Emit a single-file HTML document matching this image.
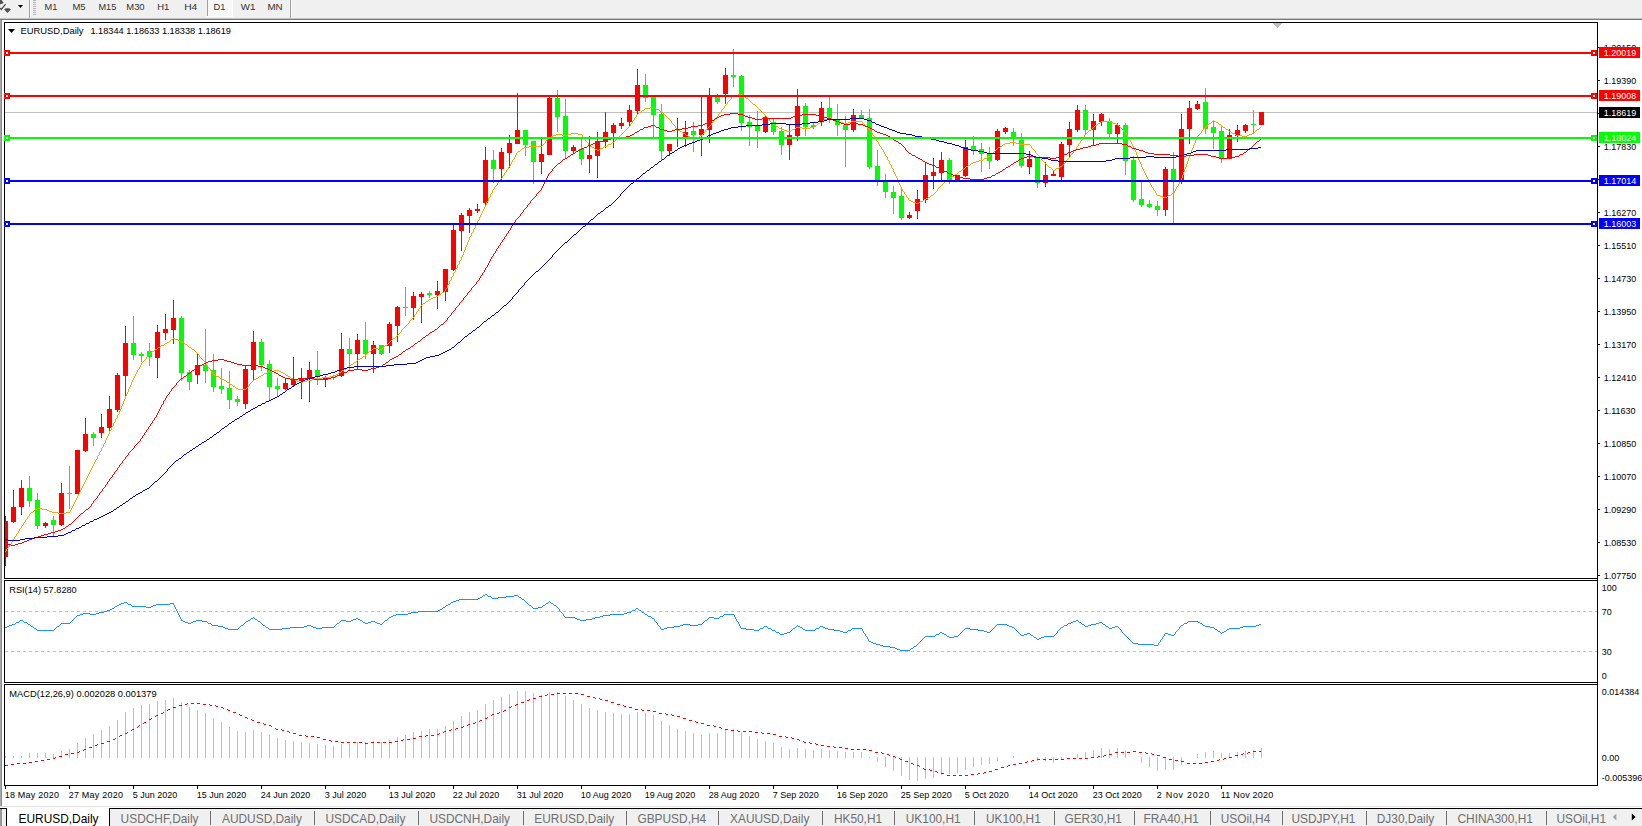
<!DOCTYPE html>
<html><head><meta charset="utf-8"><title>EURUSD,Daily</title>
<style>html,body{margin:0;padding:0;background:#fff;overflow:hidden}body{width:1642px;height:826px;position:relative;font-family:"Liberation Sans",sans-serif}svg{position:absolute;left:0;top:0;display:block}text{font-family:"Liberation Sans",sans-serif;white-space:pre}</style>
</head><body>
<svg width="1642" height="826" viewBox="0 0 1642 826" shape-rendering="crispEdges">
<rect x="0" y="0" width="1642" height="826" fill="#fff"/>
<rect x="0" y="0" width="1642" height="18" fill="#f0f0f0"/>
<rect x="0" y="18" width="1642" height="1" fill="#c4c4c4"/>
<rect x="0" y="19" width="1642" height="1" fill="#787878"/>
<rect x="29" y="0" width="1" height="18" fill="#a0a0a0"/>
<rect x="30" y="0" width="1" height="18" fill="#fbfbfb"/>
<rect x="33" y="0" width="3" height="1" fill="#b4b4b4"/>
<rect x="33" y="2" width="3" height="1" fill="#b4b4b4"/>
<rect x="33" y="4" width="3" height="1" fill="#b4b4b4"/>
<rect x="33" y="6" width="3" height="1" fill="#b4b4b4"/>
<rect x="33" y="8" width="3" height="1" fill="#b4b4b4"/>
<rect x="33" y="10" width="3" height="1" fill="#b4b4b4"/>
<rect x="33" y="12" width="3" height="1" fill="#b4b4b4"/>
<rect x="33" y="14" width="3" height="1" fill="#b4b4b4"/>
<rect x="208" y="0" width="24" height="16" fill="#f8f8f8"/>
<rect x="207" y="0" width="1" height="16" fill="#a0a0a0"/>
<rect x="232" y="0" width="1" height="17" fill="#fcfcfc"/>
<rect x="207" y="16" width="26" height="1" fill="#fcfcfc"/>
<rect x="290" y="0" width="1" height="18" fill="#a0a0a0"/>
<rect x="291" y="0" width="1" height="18" fill="#fbfbfb"/>
<g shape-rendering="geometricPrecision" fill="#505050"><polygon points="0,0 1.6,0 3.8,3.1 0,4.6"/><polygon points="4.1,9.4 5.8,8.3 9.2,8.3 10.9,9.4 7.5,12.9"/><path d="M5.6,4.1 L1.3,9.4 L0,8" stroke="#505050" stroke-width="1.3" fill="none"/></g>
<polygon points="18,5 23,5 20.5,8" fill="#000" shape-rendering="geometricPrecision"/>
<text transform="translate(44.5 9.8) scale(0.9709 1)" font-size="9.68" fill="#303030" text-anchor="start" textLength="13.18" lengthAdjust="spacingAndGlyphs">M1</text>
<text transform="translate(72.4 9.8) scale(0.9709 1)" font-size="9.68" fill="#303030" text-anchor="start" textLength="13.6" lengthAdjust="spacingAndGlyphs">M5</text>
<text transform="translate(98.4 9.8) scale(0.9709 1)" font-size="9.68" fill="#303030" text-anchor="start" textLength="18.44" lengthAdjust="spacingAndGlyphs">M15</text>
<text transform="translate(126.3 9.8) scale(0.9709 1)" font-size="9.68" fill="#303030" text-anchor="start" textLength="18.85" lengthAdjust="spacingAndGlyphs">M30</text>
<text transform="translate(157.2 9.8) scale(0.9709 1)" font-size="9.68" fill="#303030" text-anchor="start" textLength="12.46" lengthAdjust="spacingAndGlyphs">H1</text>
<text transform="translate(184.2 9.8) scale(0.9709 1)" font-size="9.68" fill="#303030" text-anchor="start" textLength="13.49" lengthAdjust="spacingAndGlyphs">H4</text>
<text transform="translate(213.5 9.8) scale(0.9709 1)" font-size="9.68" fill="#303030" text-anchor="start" textLength="12.15" lengthAdjust="spacingAndGlyphs">D1</text>
<text transform="translate(240.7 9.8) scale(0.9709 1)" font-size="9.68" fill="#303030" text-anchor="start" textLength="15.04" lengthAdjust="spacingAndGlyphs">W1</text>
<text transform="translate(267.4 9.8) scale(0.9709 1)" font-size="9.68" fill="#303030" text-anchor="start" textLength="15.66" lengthAdjust="spacingAndGlyphs">MN</text>
<rect x="0" y="20" width="1" height="786" fill="#a8a8a8"/>
<rect x="1" y="20" width="1" height="786" fill="#8c8c8c"/>
<rect x="4" y="22" width="1594" height="1" fill="#000"/>
<rect x="4" y="22" width="1" height="557" fill="#000"/>
<rect x="4" y="578" width="1594" height="1" fill="#000"/>
<rect x="4" y="580" width="1594" height="1" fill="#000"/>
<rect x="4" y="580" width="1" height="103" fill="#000"/>
<rect x="4" y="682" width="1594" height="1" fill="#000"/>
<rect x="4" y="684" width="1594" height="1" fill="#000"/>
<rect x="4" y="684" width="1" height="102" fill="#000"/>
<rect x="4" y="785" width="1594" height="1" fill="#000"/>
<rect x="1597" y="22" width="1" height="764" fill="#000"/>
<clipPath id="cp"><rect x="5" y="23" width="1592" height="555"/></clipPath>
<g clip-path="url(#cp)">
<rect x="5" y="112" width="1592" height="1" fill="#c0c0c0"/>
<rect x="5" y="516" width="1" height="50" fill="#ff0000"/>
<rect x="3" y="521" width="5" height="36" fill="#ff0000"/>
<rect x="13" y="490" width="1" height="33" fill="#ff0000"/>
<rect x="11" y="507" width="5" height="15" fill="#ff0000"/>
<rect x="21" y="480" width="1" height="35" fill="#ff0000"/>
<rect x="19" y="488" width="5" height="19" fill="#ff0000"/>
<rect x="29" y="476" width="1" height="31" fill="#00ff00"/>
<rect x="27" y="488" width="5" height="13" fill="#00ff00"/>
<rect x="37" y="493" width="1" height="36" fill="#00ff00"/>
<rect x="35" y="500" width="5" height="26" fill="#00ff00"/>
<rect x="45" y="522" width="1" height="6" fill="#ff0000"/>
<rect x="43" y="523" width="5" height="3" fill="#ff0000"/>
<rect x="53" y="516" width="1" height="20" fill="#00ff00"/>
<rect x="51" y="520" width="5" height="5" fill="#00ff00"/>
<rect x="61" y="483" width="1" height="43" fill="#ff0000"/>
<rect x="59" y="493" width="5" height="32" fill="#ff0000"/>
<rect x="69" y="466" width="1" height="43" fill="#00ff00"/>
<rect x="67" y="493" width="5" height="1" fill="#00ff00"/>
<rect x="77" y="450" width="1" height="44" fill="#ff0000"/>
<rect x="75" y="450" width="5" height="44" fill="#ff0000"/>
<rect x="85" y="418" width="1" height="34" fill="#ff0000"/>
<rect x="83" y="434" width="5" height="17" fill="#ff0000"/>
<rect x="93" y="432" width="1" height="14" fill="#00ff00"/>
<rect x="91" y="434" width="5" height="4" fill="#00ff00"/>
<rect x="101" y="414" width="1" height="24" fill="#ff0000"/>
<rect x="99" y="427" width="5" height="6" fill="#ff0000"/>
<rect x="109" y="396" width="1" height="36" fill="#ff0000"/>
<rect x="107" y="409" width="5" height="19" fill="#ff0000"/>
<rect x="117" y="373" width="1" height="39" fill="#ff0000"/>
<rect x="115" y="375" width="5" height="35" fill="#ff0000"/>
<rect x="125" y="326" width="1" height="71" fill="#ff0000"/>
<rect x="123" y="343" width="5" height="33" fill="#ff0000"/>
<rect x="133" y="316" width="1" height="44" fill="#00ff00"/>
<rect x="131" y="343" width="5" height="12" fill="#00ff00"/>
<rect x="141" y="352" width="1" height="10" fill="#00ff00"/>
<rect x="139" y="354" width="5" height="2" fill="#00ff00"/>
<rect x="149" y="343" width="1" height="23" fill="#00ff00"/>
<rect x="147" y="351" width="5" height="6" fill="#00ff00"/>
<rect x="157" y="325" width="1" height="53" fill="#ff0000"/>
<rect x="155" y="332" width="5" height="26" fill="#ff0000"/>
<rect x="165" y="314" width="1" height="26" fill="#ff0000"/>
<rect x="163" y="329" width="5" height="4" fill="#ff0000"/>
<rect x="173" y="300" width="1" height="44" fill="#ff0000"/>
<rect x="171" y="318" width="5" height="12" fill="#ff0000"/>
<rect x="181" y="316" width="1" height="65" fill="#00ff00"/>
<rect x="179" y="318" width="5" height="55" fill="#00ff00"/>
<rect x="189" y="370" width="1" height="20" fill="#00ff00"/>
<rect x="187" y="372" width="5" height="10" fill="#00ff00"/>
<rect x="197" y="354" width="1" height="30" fill="#ff0000"/>
<rect x="195" y="365" width="5" height="10" fill="#ff0000"/>
<rect x="205" y="329" width="1" height="54" fill="#00ff00"/>
<rect x="203" y="365" width="5" height="6" fill="#00ff00"/>
<rect x="213" y="354" width="1" height="38" fill="#00ff00"/>
<rect x="211" y="370" width="5" height="17" fill="#00ff00"/>
<rect x="221" y="368" width="1" height="26" fill="#00ff00"/>
<rect x="219" y="386" width="5" height="3" fill="#00ff00"/>
<rect x="229" y="371" width="1" height="38" fill="#00ff00"/>
<rect x="227" y="388" width="5" height="12" fill="#00ff00"/>
<rect x="237" y="396" width="1" height="10" fill="#00ff00"/>
<rect x="235" y="399" width="5" height="3" fill="#00ff00"/>
<rect x="245" y="365" width="1" height="44" fill="#ff0000"/>
<rect x="243" y="369" width="5" height="35" fill="#ff0000"/>
<rect x="253" y="331" width="1" height="49" fill="#ff0000"/>
<rect x="251" y="342" width="5" height="28" fill="#ff0000"/>
<rect x="261" y="339" width="1" height="32" fill="#00ff00"/>
<rect x="259" y="342" width="5" height="23" fill="#00ff00"/>
<rect x="269" y="360" width="1" height="40" fill="#00ff00"/>
<rect x="267" y="364" width="5" height="23" fill="#00ff00"/>
<rect x="277" y="378" width="1" height="19" fill="#00ff00"/>
<rect x="275" y="386" width="5" height="3" fill="#00ff00"/>
<rect x="285" y="378" width="1" height="12" fill="#ff0000"/>
<rect x="283" y="383" width="5" height="6" fill="#ff0000"/>
<rect x="293" y="357" width="1" height="29" fill="#ff0000"/>
<rect x="291" y="379" width="5" height="6" fill="#ff0000"/>
<rect x="301" y="368" width="1" height="31" fill="#ff0000"/>
<rect x="299" y="378" width="5" height="3" fill="#ff0000"/>
<rect x="309" y="362" width="1" height="40" fill="#ff0000"/>
<rect x="307" y="370" width="5" height="9" fill="#ff0000"/>
<rect x="317" y="351" width="1" height="34" fill="#00ff00"/>
<rect x="315" y="370" width="5" height="7" fill="#00ff00"/>
<rect x="325" y="376" width="1" height="11" fill="#ff0000"/>
<rect x="323" y="377" width="5" height="3" fill="#ff0000"/>
<rect x="333" y="375" width="1" height="5" fill="#00ff00"/>
<rect x="331" y="377" width="5" height="1" fill="#00ff00"/>
<rect x="341" y="333" width="1" height="44" fill="#ff0000"/>
<rect x="339" y="349" width="5" height="27" fill="#ff0000"/>
<rect x="349" y="338" width="1" height="32" fill="#00ff00"/>
<rect x="347" y="349" width="5" height="5" fill="#00ff00"/>
<rect x="357" y="334" width="1" height="35" fill="#ff0000"/>
<rect x="355" y="340" width="5" height="14" fill="#ff0000"/>
<rect x="365" y="322" width="1" height="37" fill="#00ff00"/>
<rect x="363" y="340" width="5" height="14" fill="#00ff00"/>
<rect x="373" y="341" width="1" height="32" fill="#ff0000"/>
<rect x="371" y="345" width="5" height="9" fill="#ff0000"/>
<rect x="381" y="345" width="1" height="10" fill="#00ff00"/>
<rect x="379" y="345" width="5" height="9" fill="#00ff00"/>
<rect x="389" y="322" width="1" height="31" fill="#ff0000"/>
<rect x="387" y="324" width="5" height="22" fill="#ff0000"/>
<rect x="397" y="306" width="1" height="36" fill="#ff0000"/>
<rect x="395" y="307" width="5" height="19" fill="#ff0000"/>
<rect x="405" y="287" width="1" height="29" fill="#00ff00"/>
<rect x="403" y="307" width="5" height="1" fill="#00ff00"/>
<rect x="413" y="292" width="1" height="28" fill="#ff0000"/>
<rect x="411" y="296" width="5" height="12" fill="#ff0000"/>
<rect x="421" y="292" width="1" height="31" fill="#ff0000"/>
<rect x="419" y="294" width="5" height="3" fill="#ff0000"/>
<rect x="429" y="291" width="1" height="7" fill="#00ff00"/>
<rect x="427" y="293" width="5" height="2" fill="#00ff00"/>
<rect x="437" y="281" width="1" height="28" fill="#ff0000"/>
<rect x="435" y="291" width="5" height="4" fill="#ff0000"/>
<rect x="445" y="269" width="1" height="32" fill="#ff0000"/>
<rect x="443" y="269" width="5" height="23" fill="#ff0000"/>
<rect x="453" y="225" width="1" height="46" fill="#ff0000"/>
<rect x="451" y="230" width="5" height="40" fill="#ff0000"/>
<rect x="461" y="213" width="1" height="38" fill="#ff0000"/>
<rect x="459" y="215" width="5" height="16" fill="#ff0000"/>
<rect x="469" y="208" width="1" height="25" fill="#ff0000"/>
<rect x="467" y="210" width="5" height="6" fill="#ff0000"/>
<rect x="477" y="204" width="1" height="9" fill="#ff0000"/>
<rect x="475" y="209" width="5" height="2" fill="#ff0000"/>
<rect x="485" y="147" width="1" height="58" fill="#ff0000"/>
<rect x="483" y="160" width="5" height="43" fill="#ff0000"/>
<rect x="493" y="150" width="1" height="33" fill="#00ff00"/>
<rect x="491" y="160" width="5" height="9" fill="#00ff00"/>
<rect x="501" y="148" width="1" height="32" fill="#ff0000"/>
<rect x="499" y="152" width="5" height="17" fill="#ff0000"/>
<rect x="509" y="135" width="1" height="33" fill="#ff0000"/>
<rect x="507" y="143" width="5" height="10" fill="#ff0000"/>
<rect x="517" y="93" width="1" height="51" fill="#ff0000"/>
<rect x="515" y="130" width="5" height="14" fill="#ff0000"/>
<rect x="525" y="130" width="1" height="26" fill="#00ff00"/>
<rect x="523" y="130" width="5" height="15" fill="#00ff00"/>
<rect x="533" y="141" width="1" height="43" fill="#00ff00"/>
<rect x="531" y="141" width="5" height="21" fill="#00ff00"/>
<rect x="541" y="139" width="1" height="35" fill="#ff0000"/>
<rect x="539" y="154" width="5" height="8" fill="#ff0000"/>
<rect x="549" y="96" width="1" height="59" fill="#ff0000"/>
<rect x="547" y="98" width="5" height="57" fill="#ff0000"/>
<rect x="557" y="90" width="1" height="42" fill="#00ff00"/>
<rect x="555" y="98" width="5" height="19" fill="#00ff00"/>
<rect x="565" y="99" width="1" height="59" fill="#00ff00"/>
<rect x="563" y="116" width="5" height="35" fill="#00ff00"/>
<rect x="573" y="145" width="1" height="9" fill="#ff0000"/>
<rect x="571" y="147" width="5" height="4" fill="#ff0000"/>
<rect x="581" y="139" width="1" height="26" fill="#00ff00"/>
<rect x="579" y="149" width="5" height="10" fill="#00ff00"/>
<rect x="589" y="136" width="1" height="37" fill="#ff0000"/>
<rect x="587" y="155" width="5" height="4" fill="#ff0000"/>
<rect x="597" y="132" width="1" height="46" fill="#ff0000"/>
<rect x="595" y="141" width="5" height="15" fill="#ff0000"/>
<rect x="605" y="112" width="1" height="36" fill="#ff0000"/>
<rect x="603" y="132" width="5" height="10" fill="#ff0000"/>
<rect x="613" y="123" width="1" height="25" fill="#ff0000"/>
<rect x="611" y="125" width="5" height="8" fill="#ff0000"/>
<rect x="621" y="118" width="1" height="11" fill="#ff0000"/>
<rect x="619" y="123" width="5" height="3" fill="#ff0000"/>
<rect x="629" y="105" width="1" height="21" fill="#ff0000"/>
<rect x="627" y="110" width="5" height="12" fill="#ff0000"/>
<rect x="637" y="69" width="1" height="46" fill="#ff0000"/>
<rect x="635" y="85" width="5" height="26" fill="#ff0000"/>
<rect x="645" y="74" width="1" height="28" fill="#00ff00"/>
<rect x="643" y="85" width="5" height="13" fill="#00ff00"/>
<rect x="653" y="97" width="1" height="41" fill="#00ff00"/>
<rect x="651" y="97" width="5" height="18" fill="#00ff00"/>
<rect x="661" y="104" width="1" height="56" fill="#00ff00"/>
<rect x="659" y="114" width="5" height="37" fill="#00ff00"/>
<rect x="669" y="144" width="1" height="12" fill="#ff0000"/>
<rect x="667" y="144" width="5" height="7" fill="#ff0000"/>
<rect x="677" y="118" width="1" height="29" fill="#ff0000"/>
<rect x="675" y="137" width="5" height="2" fill="#ff0000"/>
<rect x="685" y="121" width="1" height="26" fill="#ff0000"/>
<rect x="683" y="132" width="5" height="5" fill="#ff0000"/>
<rect x="693" y="122" width="1" height="30" fill="#00ff00"/>
<rect x="691" y="131" width="5" height="4" fill="#00ff00"/>
<rect x="701" y="97" width="1" height="59" fill="#ff0000"/>
<rect x="699" y="129" width="5" height="6" fill="#ff0000"/>
<rect x="709" y="88" width="1" height="55" fill="#ff0000"/>
<rect x="707" y="97" width="5" height="33" fill="#ff0000"/>
<rect x="717" y="94" width="1" height="10" fill="#00ff00"/>
<rect x="715" y="97" width="5" height="5" fill="#00ff00"/>
<rect x="725" y="68" width="1" height="36" fill="#ff0000"/>
<rect x="723" y="75" width="5" height="19" fill="#ff0000"/>
<rect x="733" y="49" width="1" height="38" fill="#00ff00"/>
<rect x="731" y="75" width="5" height="2" fill="#00ff00"/>
<rect x="741" y="75" width="1" height="56" fill="#00ff00"/>
<rect x="739" y="76" width="5" height="47" fill="#00ff00"/>
<rect x="749" y="115" width="1" height="31" fill="#00ff00"/>
<rect x="747" y="122" width="5" height="5" fill="#00ff00"/>
<rect x="757" y="111" width="1" height="37" fill="#00ff00"/>
<rect x="755" y="125" width="5" height="6" fill="#00ff00"/>
<rect x="765" y="116" width="1" height="17" fill="#ff0000"/>
<rect x="763" y="117" width="5" height="15" fill="#ff0000"/>
<rect x="773" y="119" width="1" height="16" fill="#00ff00"/>
<rect x="771" y="122" width="5" height="10" fill="#00ff00"/>
<rect x="781" y="127" width="1" height="28" fill="#00ff00"/>
<rect x="779" y="131" width="5" height="14" fill="#00ff00"/>
<rect x="789" y="125" width="1" height="35" fill="#ff0000"/>
<rect x="787" y="135" width="5" height="10" fill="#ff0000"/>
<rect x="797" y="89" width="1" height="52" fill="#ff0000"/>
<rect x="795" y="106" width="5" height="30" fill="#ff0000"/>
<rect x="805" y="103" width="1" height="33" fill="#00ff00"/>
<rect x="803" y="106" width="5" height="21" fill="#00ff00"/>
<rect x="813" y="122" width="1" height="7" fill="#00ff00"/>
<rect x="811" y="125" width="5" height="2" fill="#00ff00"/>
<rect x="821" y="102" width="1" height="24" fill="#ff0000"/>
<rect x="819" y="108" width="5" height="13" fill="#ff0000"/>
<rect x="829" y="97" width="1" height="26" fill="#00ff00"/>
<rect x="827" y="108" width="5" height="10" fill="#00ff00"/>
<rect x="837" y="104" width="1" height="32" fill="#00ff00"/>
<rect x="835" y="119" width="5" height="6" fill="#00ff00"/>
<rect x="845" y="116" width="1" height="51" fill="#00ff00"/>
<rect x="843" y="125" width="5" height="5" fill="#00ff00"/>
<rect x="853" y="109" width="1" height="23" fill="#ff0000"/>
<rect x="851" y="115" width="5" height="15" fill="#ff0000"/>
<rect x="861" y="110" width="1" height="8" fill="#00ff00"/>
<rect x="859" y="115" width="5" height="3" fill="#00ff00"/>
<rect x="869" y="109" width="1" height="60" fill="#00ff00"/>
<rect x="867" y="118" width="5" height="49" fill="#00ff00"/>
<rect x="877" y="150" width="1" height="36" fill="#00ff00"/>
<rect x="875" y="166" width="5" height="16" fill="#00ff00"/>
<rect x="885" y="174" width="1" height="24" fill="#00ff00"/>
<rect x="883" y="181" width="5" height="11" fill="#00ff00"/>
<rect x="893" y="186" width="1" height="28" fill="#00ff00"/>
<rect x="891" y="192" width="5" height="6" fill="#00ff00"/>
<rect x="901" y="187" width="1" height="33" fill="#00ff00"/>
<rect x="899" y="196" width="5" height="22" fill="#00ff00"/>
<rect x="909" y="212" width="1" height="7" fill="#ff0000"/>
<rect x="907" y="215" width="5" height="3" fill="#ff0000"/>
<rect x="917" y="190" width="1" height="29" fill="#ff0000"/>
<rect x="915" y="199" width="5" height="12" fill="#ff0000"/>
<rect x="925" y="163" width="1" height="40" fill="#ff0000"/>
<rect x="923" y="175" width="5" height="25" fill="#ff0000"/>
<rect x="933" y="158" width="1" height="31" fill="#ff0000"/>
<rect x="931" y="172" width="5" height="4" fill="#ff0000"/>
<rect x="941" y="152" width="1" height="29" fill="#ff0000"/>
<rect x="939" y="160" width="5" height="13" fill="#ff0000"/>
<rect x="949" y="158" width="1" height="26" fill="#00ff00"/>
<rect x="947" y="160" width="5" height="21" fill="#00ff00"/>
<rect x="957" y="175" width="1" height="7" fill="#ff0000"/>
<rect x="955" y="175" width="5" height="7" fill="#ff0000"/>
<rect x="965" y="140" width="1" height="37" fill="#ff0000"/>
<rect x="963" y="147" width="5" height="29" fill="#ff0000"/>
<rect x="973" y="136" width="1" height="19" fill="#00ff00"/>
<rect x="971" y="146" width="5" height="5" fill="#00ff00"/>
<rect x="981" y="143" width="1" height="29" fill="#00ff00"/>
<rect x="979" y="149" width="5" height="5" fill="#00ff00"/>
<rect x="989" y="147" width="1" height="22" fill="#00ff00"/>
<rect x="987" y="153" width="5" height="8" fill="#00ff00"/>
<rect x="997" y="129" width="1" height="32" fill="#ff0000"/>
<rect x="995" y="131" width="5" height="29" fill="#ff0000"/>
<rect x="1005" y="127" width="1" height="7" fill="#ff0000"/>
<rect x="1003" y="128" width="5" height="4" fill="#ff0000"/>
<rect x="1013" y="128" width="1" height="18" fill="#00ff00"/>
<rect x="1011" y="132" width="5" height="7" fill="#00ff00"/>
<rect x="1021" y="133" width="1" height="35" fill="#00ff00"/>
<rect x="1019" y="140" width="5" height="26" fill="#00ff00"/>
<rect x="1029" y="151" width="1" height="23" fill="#ff0000"/>
<rect x="1027" y="159" width="5" height="8" fill="#ff0000"/>
<rect x="1037" y="157" width="1" height="31" fill="#00ff00"/>
<rect x="1035" y="158" width="5" height="25" fill="#00ff00"/>
<rect x="1045" y="162" width="1" height="25" fill="#ff0000"/>
<rect x="1043" y="175" width="5" height="8" fill="#ff0000"/>
<rect x="1053" y="171" width="1" height="5" fill="#ff0000"/>
<rect x="1051" y="174" width="5" height="2" fill="#ff0000"/>
<rect x="1061" y="142" width="1" height="39" fill="#ff0000"/>
<rect x="1059" y="144" width="5" height="33" fill="#ff0000"/>
<rect x="1069" y="122" width="1" height="35" fill="#ff0000"/>
<rect x="1067" y="129" width="5" height="16" fill="#ff0000"/>
<rect x="1077" y="105" width="1" height="27" fill="#ff0000"/>
<rect x="1075" y="110" width="5" height="20" fill="#ff0000"/>
<rect x="1085" y="105" width="1" height="30" fill="#00ff00"/>
<rect x="1083" y="110" width="5" height="20" fill="#00ff00"/>
<rect x="1093" y="114" width="1" height="32" fill="#ff0000"/>
<rect x="1091" y="121" width="5" height="9" fill="#ff0000"/>
<rect x="1101" y="113" width="1" height="13" fill="#ff0000"/>
<rect x="1099" y="114" width="5" height="8" fill="#ff0000"/>
<rect x="1109" y="118" width="1" height="20" fill="#00ff00"/>
<rect x="1107" y="121" width="5" height="13" fill="#00ff00"/>
<rect x="1117" y="123" width="1" height="20" fill="#ff0000"/>
<rect x="1115" y="125" width="5" height="9" fill="#ff0000"/>
<rect x="1125" y="123" width="1" height="52" fill="#00ff00"/>
<rect x="1123" y="125" width="5" height="36" fill="#00ff00"/>
<rect x="1133" y="156" width="1" height="46" fill="#00ff00"/>
<rect x="1131" y="160" width="5" height="40" fill="#00ff00"/>
<rect x="1141" y="181" width="1" height="26" fill="#00ff00"/>
<rect x="1139" y="199" width="5" height="6" fill="#00ff00"/>
<rect x="1149" y="200" width="1" height="8" fill="#00ff00"/>
<rect x="1147" y="204" width="5" height="3" fill="#00ff00"/>
<rect x="1157" y="201" width="1" height="15" fill="#00ff00"/>
<rect x="1155" y="206" width="5" height="4" fill="#00ff00"/>
<rect x="1165" y="167" width="1" height="49" fill="#ff0000"/>
<rect x="1163" y="169" width="5" height="41" fill="#ff0000"/>
<rect x="1173" y="152" width="1" height="71" fill="#00ff00"/>
<rect x="1171" y="169" width="5" height="11" fill="#00ff00"/>
<rect x="1181" y="114" width="1" height="70" fill="#ff0000"/>
<rect x="1179" y="129" width="5" height="51" fill="#ff0000"/>
<rect x="1189" y="101" width="1" height="43" fill="#ff0000"/>
<rect x="1187" y="108" width="5" height="21" fill="#ff0000"/>
<rect x="1197" y="101" width="1" height="9" fill="#ff0000"/>
<rect x="1195" y="104" width="5" height="5" fill="#ff0000"/>
<rect x="1205" y="88" width="1" height="46" fill="#00ff00"/>
<rect x="1203" y="102" width="5" height="27" fill="#00ff00"/>
<rect x="1213" y="121" width="1" height="28" fill="#00ff00"/>
<rect x="1211" y="127" width="5" height="6" fill="#00ff00"/>
<rect x="1221" y="126" width="1" height="37" fill="#00ff00"/>
<rect x="1219" y="131" width="5" height="28" fill="#00ff00"/>
<rect x="1229" y="129" width="1" height="30" fill="#ff0000"/>
<rect x="1227" y="135" width="5" height="24" fill="#ff0000"/>
<rect x="1237" y="125" width="1" height="17" fill="#ff0000"/>
<rect x="1235" y="130" width="5" height="6" fill="#ff0000"/>
<rect x="1245" y="124" width="1" height="9" fill="#ff0000"/>
<rect x="1243" y="125" width="5" height="6" fill="#ff0000"/>
<rect x="1253" y="110" width="1" height="24" fill="#00ff00"/>
<rect x="1251" y="124" width="5" height="1" fill="#00ff00"/>
<rect x="1261" y="112" width="1" height="13" fill="#ff0000"/>
<rect x="1259" y="112" width="5" height="13" fill="#ff0000"/>
<path d="M5 551v1M6 549v2M7 548v1M8 547v1M9 545v2M10 544v1M11 542v2M12 541v1M13 539v2M14 537v2M15 536v1M16 534v2M17 533v1M18 531v2M19 529v2M20 528v1M21 526v2M22 525v1M23 523v2M24 522v1M25 520v2M26 519v1M27 517v2M28 516v1M29 514v2M30 513v1M31 512v1M32 512v1M33 511v1M34 510v1M35 509v1M36 509v1M37 508v1M38 508v1M39 508v1M40 508v1M41 508v1M42 509v1M43 509v1M44 509v1M45 509v1M46 509v1M47 510v1M48 510v1M49 511v1M50 511v1M51 511v1M52 512v1M53 512v1M54 512v1M55 512v1M56 512v1M57 512v1M58 513v1M59 513v1M60 513v1M61 513v1M62 513v1M63 513v1M64 513v1M65 513v1M66 512v1M67 512v1M68 512v1M69 512v1M70 510v2M71 508v2M72 506v2M73 504v2M74 502v2M75 500v2M76 498v2M77 496v2M78 494v2M79 492v2M80 490v2M81 488v2M82 486v2M83 484v2M84 482v2M85 480v2M86 478v2M87 476v2M88 474v2M89 472v2M90 470v2M91 468v2M92 466v2M93 464v2M94 462v2M95 460v2M96 459v1M97 456v3M98 455v1M99 452v3M100 451v1M101 448v3M102 447v1M103 444v3M104 443v1M105 440v3M106 438v2M107 436v2M108 434v2M109 431v3M110 430v1M111 427v3M112 426v1M113 423v3M114 422v1M115 419v3M116 418v1M117 415v3M118 414v1M119 411v3M120 409v2M121 406v3M122 404v2M123 401v3M124 399v2M125 396v3M126 394v2M127 392v2M128 389v3M129 387v2M130 385v2M131 382v3M132 380v2M133 378v2M134 376v2M135 374v2M136 372v2M137 370v2M138 369v1M139 367v2M140 365v2M141 363v2M142 362v1M143 361v1M144 360v1M145 359v1M146 357v2M147 356v1M148 355v1M149 354v1M150 353v1M151 352v1M152 351v1M153 351v1M154 350v1M155 349v1M156 349v1M157 348v1M158 347v1M159 347v1M160 346v1M161 345v1M162 345v1M163 345v1M164 344v1M165 343v1M166 343v1M167 342v1M168 342v1M169 341v1M170 340v1M171 339v1M172 339v1M173 338v1M174 338v1M175 339v1M176 339v1M177 339v1M178 340v1M179 340v1M180 341v1M181 341v1M182 342v1M183 342v1M184 343v1M185 344v1M186 344v1M187 345v1M188 346v1M189 347v1M190 347v1M191 348v1M192 349v1M193 349v1M194 350v1M195 351v1M196 352v1M197 353v1M198 354v1M199 355v2M200 357v1M201 358v1M202 359v1M203 360v1M204 361v1M205 362v2M206 364v1M207 365v2M208 367v1M209 368v1M210 369v2M211 371v1M212 372v2M213 374v1M214 374v1M215 375v1M216 376v1M217 376v1M218 376v1M219 377v1M220 378v1M221 378v1M222 379v1M223 379v1M224 380v1M225 380v1M226 381v1M227 382v1M228 382v1M229 383v1M230 384v1M231 384v1M232 385v1M233 386v1M234 386v1M235 387v1M236 388v1M237 388v1M238 389v1M239 389v1M240 389v1M241 389v1M242 389v1M243 389v1M244 389v1M245 389v1M246 388v1M247 387v1M248 386v1M249 384v2M250 383v1M251 382v1M252 381v1M253 380v1M254 379v1M255 379v1M256 378v1M257 378v1M258 377v1M259 376v1M260 376v1M261 375v1M262 375v1M263 374v1M264 373v1M265 373v1M266 373v1M267 372v1M268 371v1M269 371v1M270 371v1M271 371v1M272 371v1M273 371v1M274 370v1M275 370v1M276 370v1M277 370v1M278 370v1M279 371v1M280 371v1M281 372v1M282 372v1M283 373v1M284 373v1M285 374v1M286 375v1M287 375v1M288 376v1M289 376v1M290 377v1M291 378v1M292 378v1M293 379v1M294 379v1M295 380v1M296 380v1M297 381v1M298 381v1M299 382v1M300 382v1M301 382v1M302 382v1M303 381v1M304 381v1M305 381v1M306 381v1M307 380v1M308 380v1M309 380v1M310 380v1M311 380v1M312 379v1M313 379v1M314 379v1M315 378v1M316 378v1M317 378v1M318 378v1M319 378v1M320 378v1M321 378v1M322 377v1M323 377v1M324 377v1M325 377v1M326 377v1M327 377v1M328 377v1M329 377v1M330 376v1M331 376v1M332 376v1M333 376v1M334 375v1M335 375v1M336 374v1M337 374v1M338 373v1M339 372v1M340 372v1M341 371v1M342 370v1M343 370v1M344 369v1M345 369v1M346 368v1M347 367v1M348 367v1M349 366v1M350 365v1M351 364v1M352 364v1M353 363v1M354 362v1M355 362v1M356 361v1M357 360v1M358 359v1M359 359v1M360 358v1M361 358v1M362 357v1M363 356v1M364 356v1M365 355v1M366 354v1M367 353v1M368 352v1M369 351v1M370 351v1M371 350v1M372 349v1M373 348v1M374 348v1M375 348v1M376 348v1M377 348v1M378 349v1M379 349v1M380 349v1M381 349v1M382 348v1M383 347v1M384 346v1M385 345v1M386 345v1M387 344v1M388 343v1M389 342v1M390 341v1M391 340v1M392 339v1M393 338v1M394 338v1M395 337v1M396 336v1M397 335v1M398 334v1M399 333v1M400 332v1M401 330v2M402 329v1M403 328v1M404 327v1M405 326v1M406 325v1M407 324v1M408 323v1M409 321v2M410 320v1M411 319v1M412 318v1M413 317v1M414 315v2M415 314v1M416 312v2M417 311v1M418 309v2M419 308v1M420 306v2M421 305v1M422 304v1M423 303v1M424 303v1M425 302v1M426 301v1M427 301v1M428 300v1M429 299v1M430 299v1M431 298v1M432 298v1M433 297v1M434 297v1M435 297v1M436 296v1M437 296v1M438 295v1M439 294v1M440 294v1M441 293v1M442 292v1M443 292v1M444 291v1M445 289v2M446 288v1M447 285v3M448 284v1M449 281v3M450 280v1M451 277v3M452 276v1M453 273v3M454 272v1M455 269v3M456 268v1M457 265v3M458 264v1M459 261v3M460 260v1M461 257v3M462 255v2M463 252v3M464 250v2M465 247v3M466 245v2M467 242v3M468 240v2M469 237v3M470 236v1M471 233v3M472 232v1M473 229v3M474 228v1M475 225v3M476 224v1M477 221v3M478 220v1M479 217v3M480 215v2M481 213v2M482 211v2M483 209v2M484 207v2M485 205v2M486 202v3M487 201v1M488 198v3M489 197v1M490 194v3M491 193v1M492 190v3M493 189v1M494 187v2M495 186v1M496 185v1M497 183v2M498 182v1M499 181v1M500 179v2M501 178v1M502 176v2M503 175v1M504 173v2M505 172v1M506 170v2M507 169v1M508 167v2M509 166v1M510 164v2M511 162v2M512 160v2M513 159v1M514 157v2M515 155v2M516 153v2M517 152v1M518 151v1M519 151v1M520 150v1M521 149v1M522 148v1M523 148v1M524 147v1M525 147v1M526 147v1M527 147v1M528 147v1M529 146v1M530 146v1M531 146v1M532 146v1M533 146v1M534 146v1M535 146v1M536 146v1M537 146v1M538 146v1M539 146v1M540 146v1M541 146v1M542 145v1M543 144v1M544 143v1M545 141v2M546 140v1M547 139v1M548 138v1M549 137v1M550 137v1M551 136v1M552 136v1M553 135v1M554 135v1M555 135v1M556 134v1M557 134v1M558 134v1M559 134v1M560 134v1M561 134v1M562 135v1M563 135v1M564 135v1M565 135v1M566 135v1M567 135v1M568 134v1M569 134v1M570 134v1M571 133v1M572 133v1M573 133v1M574 133v1M575 133v1M576 133v1M577 133v1M578 134v1M579 134v1M580 134v1M581 134v1M582 135v2M583 137v1M584 138v1M585 139v2M586 141v1M587 142v1M588 143v2M589 145v1M590 146v1M591 146v1M592 147v1M593 147v1M594 148v1M595 149v1M596 149v1M597 150v1M598 150v1M599 149v1M600 148v1M601 148v1M602 148v1M603 147v1M604 146v1M605 146v1M606 146v1M607 145v1M608 144v1M609 144v1M610 144v1M611 143v1M612 142v1M613 142v1M614 141v1M615 140v1M616 139v1M617 138v1M618 137v1M619 136v1M620 135v1M621 134v1M622 133v1M623 132v1M624 131v1M625 130v1M626 129v1M627 128v1M628 127v1M629 126v1M630 124v2M631 123v1M632 121v2M633 120v1M634 118v2M635 117v1M636 115v2M637 114v1M638 113v1M639 112v1M640 112v1M641 111v1M642 110v1M643 110v1M644 109v1M645 108v1M646 108v1M647 108v1M648 108v1M649 108v1M650 107v1M651 107v1M652 107v1M653 107v1M654 107v1M655 108v1M656 109v1M657 109v1M658 109v1M659 110v1M660 111v1M661 111v1M662 112v1M663 113v1M664 114v1M665 115v1M666 116v1M667 117v1M668 118v1M669 119v1M670 120v1M671 121v2M672 123v1M673 124v1M674 125v1M675 126v2M676 128v1M677 129v1M678 130v1M679 130v1M680 131v1M681 131v1M682 132v1M683 133v1M684 133v1M685 134v1M686 135v1M687 135v1M688 136v1M689 136v1M690 137v1M691 138v1M692 138v1M693 139v1M694 139v1M695 138v1M696 137v1M697 137v1M698 137v1M699 136v1M700 135v1M701 135v1M702 134v1M703 133v1M704 132v1M705 130v2M706 129v1M707 128v1M708 127v1M709 126v1M710 125v1M711 123v2M712 122v1M713 121v1M714 120v1M715 118v2M716 117v1M717 116v1M718 114v2M719 113v1M720 112v1M721 110v2M722 109v1M723 108v1M724 106v2M725 105v1M726 104v1M727 102v2M728 101v1M729 100v1M730 99v1M731 97v2M732 96v1M733 95v1M734 95v1M735 95v1M736 95v1M737 95v1M738 94v1M739 94v1M740 94v1M741 94v1M742 95v1M743 96v1M744 96v1M745 97v1M746 98v1M747 98v1M748 99v1M749 100v1M750 101v1M751 102v1M752 103v1M753 104v1M754 104v1M755 105v1M756 106v1M757 107v1M758 108v1M759 109v1M760 110v1M761 111v1M762 112v1M763 113v1M764 114v1M765 115v1M766 116v1M767 117v1M768 118v1M769 119v2M770 121v1M771 122v1M772 123v1M773 124v1M774 125v1M775 125v1M776 126v1M777 126v1M778 127v1M779 128v1M780 128v1M781 129v1M782 129v1M783 129v1M784 130v1M785 130v1M786 130v1M787 131v1M788 131v1M789 131v1M790 131v1M791 130v1M792 129v1M793 129v1M794 129v1M795 128v1M796 127v1M797 127v1M798 127v1M799 127v1M800 127v1M801 127v1M802 128v1M803 128v1M804 128v1M805 128v1M806 128v1M807 128v1M808 128v1M809 128v1M810 127v1M811 127v1M812 127v1M813 127v1M814 126v1M815 125v1M816 125v1M817 124v1M818 123v1M819 123v1M820 122v1M821 121v1M822 121v1M823 120v1M824 119v1M825 119v1M826 119v1M827 118v1M828 117v1M829 117v1M830 117v1M831 118v1M832 119v1M833 119v1M834 119v1M835 120v1M836 121v1M837 121v1M838 121v1M839 121v1M840 122v1M841 122v1M842 122v1M843 123v1M844 123v1M845 123v1M846 123v1M847 123v1M848 122v1M849 122v1M850 122v1M851 121v1M852 121v1M853 121v1M854 121v1M855 121v1M856 121v1M857 121v1M858 121v1M859 121v1M860 121v1M861 121v1M862 122v1M863 123v1M864 124v1M865 125v1M866 126v1M867 127v1M868 128v1M869 129v1M870 130v2M871 132v1M872 133v2M873 135v1M874 136v2M875 138v1M876 139v2M877 141v1M878 142v2M879 144v2M880 146v1M881 147v2M882 149v1M883 150v2M884 152v2M885 154v2M886 156v1M887 157v3M888 160v1M889 161v3M890 164v1M891 165v3M892 168v1M893 169v3M894 172v2M895 174v2M896 176v2M897 178v3M898 181v2M899 183v2M900 185v2M901 187v2M902 189v2M903 191v1M904 192v2M905 194v1M906 195v2M907 197v1M908 198v2M909 200v1M910 200v1M911 201v1M912 201v1M913 202v1M914 202v1M915 202v1M916 203v1M917 203v1M918 203v1M919 202v1M920 201v1M921 201v1M922 201v1M923 200v1M924 199v1M925 199v1M926 198v1M927 198v1M928 197v1M929 197v1M930 196v1M931 195v1M932 195v1M933 194v1M934 193v1M935 192v1M936 191v1M937 189v2M938 188v1M939 187v1M940 186v1M941 185v1M942 184v1M943 183v1M944 182v1M945 181v1M946 181v1M947 180v1M948 179v1M949 178v1M950 177v1M951 177v1M952 176v1M953 176v1M954 175v1M955 174v1M956 174v1M957 173v1M958 172v1M959 171v1M960 171v1M961 170v1M962 169v1M963 169v1M964 168v1M965 167v1M966 166v1M967 166v1M968 165v1M969 165v1M970 164v1M971 163v1M972 163v1M973 162v1M974 162v1M975 162v1M976 161v1M977 161v1M978 161v1M979 160v1M980 160v1M981 160v1M982 160v1M983 159v1M984 158v1M985 158v1M986 158v1M987 157v1M988 156v1M989 156v1M990 155v1M991 154v1M992 153v1M993 152v1M994 151v1M995 150v1M996 149v1M997 148v1M998 147v1M999 147v1M1000 146v1M1001 146v1M1002 145v1M1003 144v1M1004 144v1M1005 143v1M1006 143v1M1007 143v1M1008 143v1M1009 143v1M1010 142v1M1011 142v1M1012 142v1M1013 142v1M1014 142v1M1015 142v1M1016 143v1M1017 143v1M1018 143v1M1019 144v1M1020 144v1M1021 144v1M1022 144v1M1023 144v1M1024 144v1M1025 144v1M1026 144v1M1027 144v1M1028 144v1M1029 144v1M1030 145v1M1031 146v2M1032 148v1M1033 149v1M1034 150v1M1035 151v2M1036 153v1M1037 154v1M1038 155v1M1039 156v1M1040 157v1M1041 158v2M1042 160v1M1043 161v1M1044 162v1M1045 163v1M1046 164v1M1047 165v1M1048 166v1M1049 167v1M1050 167v1M1051 168v1M1052 169v1M1053 170v1M1054 170v1M1055 169v1M1056 168v1M1057 168v1M1058 168v1M1059 167v1M1060 166v1M1061 166v1M1062 165v1M1063 164v1M1064 163v1M1065 161v2M1066 160v1M1067 159v1M1068 158v1M1069 157v1M1070 155v2M1071 154v1M1072 153v1M1073 151v2M1074 150v1M1075 149v1M1076 147v2M1077 146v1M1078 144v2M1079 143v1M1080 141v2M1081 140v1M1082 138v2M1083 137v1M1084 135v2M1085 134v1M1086 133v1M1087 132v1M1088 131v1M1089 130v1M1090 130v1M1091 129v1M1092 128v1M1093 127v1M1094 126v1M1095 125v1M1096 125v1M1097 124v1M1098 123v1M1099 123v1M1100 122v1M1101 121v1M1102 121v1M1103 121v1M1104 121v1M1105 121v1M1106 121v1M1107 121v1M1108 121v1M1109 121v1M1110 121v1M1111 122v1M1112 122v1M1113 123v1M1114 123v1M1115 123v1M1116 124v1M1117 124v1M1118 125v1M1119 126v1M1120 127v1M1121 128v1M1122 129v1M1123 130v1M1124 131v1M1125 132v1M1126 133v2M1127 135v2M1128 137v2M1129 139v1M1130 140v2M1131 142v2M1132 144v2M1133 146v2M1134 148v2M1135 150v2M1136 152v3M1137 155v2M1138 157v3M1139 160v2M1140 162v2M1141 164v3M1142 167v2M1143 169v2M1144 171v2M1145 173v2M1146 175v2M1147 177v2M1148 179v2M1149 181v2M1150 183v2M1151 185v2M1152 187v1M1153 188v2M1154 190v1M1155 191v2M1156 193v2M1157 195v1M1158 195v1M1159 195v1M1160 196v1M1161 196v1M1162 196v1M1163 197v1M1164 197v1M1165 197v1M1166 197v1M1167 196v1M1168 195v1M1169 195v1M1170 195v1M1171 194v1M1172 193v1M1173 193v1M1174 191v2M1175 189v2M1176 187v2M1177 186v1M1178 184v2M1179 182v2M1180 180v2M1181 178v2M1182 175v3M1183 172v3M1184 169v3M1185 167v2M1186 164v3M1187 161v3M1188 158v3M1189 155v3M1190 153v2M1191 150v3M1192 148v2M1193 145v3M1194 143v2M1195 140v3M1196 138v2M1197 136v2M1198 135v1M1199 134v1M1200 133v1M1201 131v2M1202 130v1M1203 129v1M1204 128v1M1205 127v1M1206 126v1M1207 125v1M1208 124v1M1209 123v1M1210 123v1M1211 122v1M1212 121v1M1213 120v1M1214 121v1M1215 121v1M1216 122v1M1217 122v1M1218 123v1M1219 124v1M1220 124v1M1221 125v1M1222 126v1M1223 127v1M1224 127v1M1225 128v1M1226 129v1M1227 129v1M1228 130v1M1229 131v1M1230 131v1M1231 132v1M1232 133v1M1233 133v1M1234 133v1M1235 134v1M1236 135v1M1237 135v1M1238 135v1M1239 135v1M1240 135v1M1241 135v1M1242 136v1M1243 136v1M1244 136v1M1245 136v1M1246 136v1M1247 135v1M1248 135v1M1249 134v1M1250 134v1M1251 134v1M1252 133v1M1253 133v1M1254 132v1M1255 131v1M1256 130v1M1257 129v1M1258 129v1M1259 128v1M1260 127v1" transform="translate(0.5,0)" fill="none" stroke="#ffa500" stroke-width="1"/>
<path d="M5 543v1M6 543v1M7 544v1M8 544v1M9 544v1M10 544v1M11 545v1M12 545v1M13 545v1M14 545v1M15 544v1M16 544v1M17 544v1M18 543v1M19 543v1M20 543v1M21 543v1M22 542v1M23 542v1M24 541v1M25 541v1M26 541v1M27 540v1M28 540v1M29 539v1M30 539v1M31 539v1M32 538v1M33 538v1M34 538v1M35 537v1M36 537v1M37 537v1M38 536v1M39 536v1M40 536v1M41 535v1M42 535v1M43 535v1M44 534v1M45 534v1M46 534v1M47 534v1M48 533v1M49 533v1M50 533v1M51 532v1M52 532v1M53 532v1M54 532v1M55 531v1M56 531v1M57 531v1M58 530v1M59 530v1M60 530v1M61 529v1M62 529v1M63 528v1M64 528v1M65 527v1M66 526v1M67 526v1M68 525v1M69 524v1M70 524v1M71 523v1M72 522v1M73 521v1M74 520v1M75 519v1M76 518v1M77 517v1M78 516v1M79 515v1M80 514v1M81 513v1M82 513v1M83 512v1M84 511v1M85 510v1M86 509v1M87 509v1M88 508v1M89 507v1M90 506v1M91 504v2M92 503v1M93 501v2M94 500v1M95 499v1M96 498v1M97 496v2M98 495v1M99 493v2M100 492v1M101 491v1M102 489v2M103 488v1M104 487v1M105 485v2M106 484v1M107 482v2M108 481v1M109 479v2M110 478v1M111 477v1M112 475v2M113 474v1M114 472v2M115 471v1M116 470v1M117 468v2M118 467v1M119 465v2M120 464v1M121 463v1M122 461v2M123 460v1M124 459v1M125 457v2M126 456v1M127 455v1M128 453v2M129 452v1M130 451v1M131 450v1M132 449v1M133 448v1M134 446v2M135 445v1M136 444v1M137 443v1M138 442v1M139 441v1M140 439v2M141 438v1M142 436v2M143 435v1M144 433v2M145 432v1M146 430v2M147 429v1M148 427v2M149 426v1M150 424v2M151 423v1M152 421v2M153 420v1M154 418v2M155 417v1M156 415v2M157 413v2M158 411v2M159 409v2M160 407v2M161 405v2M162 404v1M163 401v3M164 400v1M165 398v2M166 396v2M167 395v1M168 394v1M169 392v2M170 391v1M171 389v2M172 388v1M173 387v1M174 386v1M175 385v1M176 383v2M177 382v1M178 381v1M179 380v1M180 379v1M181 378v1M182 378v1M183 377v1M184 376v1M185 376v1M186 375v1M187 374v1M188 373v1M189 373v1M190 372v1M191 371v1M192 370v1M193 370v1M194 369v1M195 368v1M196 368v1M197 367v1M198 366v1M199 366v1M200 365v1M201 365v1M202 364v1M203 364v1M204 363v1M205 363v1M206 362v1M207 362v1M208 361v1M209 361v1M210 361v1M211 361v1M212 360v1M213 360v1M214 360v1M215 360v1M216 360v1M217 360v1M218 359v1M219 359v1M220 359v1M221 359v1M222 359v1M223 359v1M224 360v1M225 360v1M226 360v1M227 361v1M228 361v1M229 361v1M230 361v1M231 362v1M232 362v1M233 362v1M234 363v1M235 363v1M236 363v1M237 364v1M238 364v1M239 364v1M240 364v1M241 364v1M242 365v1M243 365v1M244 365v1M245 365v1M246 365v1M247 365v1M248 365v1M249 365v1M250 365v1M251 365v1M252 365v1M253 365v1M254 365v1M255 365v1M256 365v1M257 365v1M258 366v1M259 366v1M260 366v1M261 366v1M262 366v1M263 367v1M264 367v1M265 368v1M266 368v1M267 368v1M268 369v1M269 369v1M270 370v1M271 370v1M272 371v1M273 371v1M274 372v1M275 372v1M276 373v1M277 373v1M278 374v1M279 375v1M280 375v1M281 376v1M282 376v1M283 377v1M284 377v1M285 378v1M286 378v1M287 378v1M288 378v1M289 378v1M290 379v1M291 379v1M292 379v1M293 379v1M294 379v1M295 379v1M296 379v1M297 379v1M298 378v1M299 378v1M300 378v1M301 378v1M302 378v1M303 378v1M304 378v1M305 378v1M306 378v1M307 378v1M308 378v1M309 378v1M310 378v1M311 378v1M312 378v1M313 378v1M314 379v1M315 379v1M316 379v1M317 379v1M318 379v1M319 379v1M320 379v1M321 379v1M322 379v1M323 379v1M324 379v1M325 379v1M326 379v1M327 379v1M328 378v1M329 378v1M330 378v1M331 377v1M332 377v1M333 377v1M334 377v1M335 376v1M336 376v1M337 375v1M338 375v1M339 375v1M340 374v1M341 374v1M342 374v1M343 373v1M344 372v1M345 372v1M346 372v1M347 371v1M348 370v1M349 370v1M350 370v1M351 370v1M352 370v1M353 370v1M354 369v1M355 369v1M356 369v1M357 369v1M358 369v1M359 369v1M360 369v1M361 369v1M362 370v1M363 370v1M364 370v1M365 370v1M366 370v1M367 370v1M368 369v1M369 369v1M370 369v1M371 368v1M372 368v1M373 368v1M374 368v1M375 368v1M376 367v1M377 367v1M378 367v1M379 366v1M380 366v1M381 366v1M382 365v1M383 364v1M384 364v1M385 363v1M386 362v1M387 362v1M388 361v1M389 360v1M390 359v1M391 359v1M392 358v1M393 358v1M394 357v1M395 357v1M396 356v1M397 356v1M398 355v1M399 354v1M400 354v1M401 353v1M402 352v1M403 351v1M404 351v1M405 350v1M406 349v1M407 349v1M408 348v1M409 348v1M410 347v1M411 346v1M412 346v1M413 345v1M414 344v1M415 343v1M416 343v1M417 342v1M418 341v1M419 341v1M420 340v1M421 339v1M422 338v1M423 337v1M424 337v1M425 336v1M426 335v1M427 335v1M428 334v1M429 333v1M430 332v1M431 332v1M432 331v1M433 331v1M434 330v1M435 329v1M436 329v1M437 328v1M438 327v1M439 326v1M440 325v1M441 324v1M442 324v1M443 323v1M444 322v1M445 321v1M446 320v1M447 318v2M448 317v1M449 316v1M450 315v1M451 313v2M452 312v1M453 311v1M454 310v1M455 308v2M456 307v1M457 306v1M458 305v1M459 303v2M460 302v1M461 301v1M462 300v1M463 298v2M464 297v1M465 296v1M466 295v1M467 293v2M468 292v1M469 291v1M470 290v1M471 288v2M472 287v1M473 286v1M474 285v1M475 284v1M476 282v2M477 281v1M478 280v1M479 278v2M480 276v2M481 275v1M482 273v2M483 272v1M484 270v2M485 268v2M486 267v1M487 265v2M488 263v2M489 261v2M490 259v2M491 257v2M492 256v1M493 254v2M494 253v1M495 251v2M496 249v2M497 248v1M498 246v2M499 245v1M500 243v2M501 242v1M502 240v2M503 239v1M504 237v2M505 236v1M506 234v2M507 233v1M508 231v2M509 230v1M510 228v2M511 226v2M512 224v2M513 223v1M514 222v1M515 220v2M516 219v1M517 218v1M518 217v1M519 216v1M520 214v2M521 213v1M522 212v1M523 210v2M524 209v1M525 208v1M526 207v1M527 205v2M528 204v1M529 203v1M530 201v2M531 200v1M532 199v1M533 198v1M534 197v1M535 196v1M536 194v2M537 193v1M538 192v1M539 191v1M540 190v1M541 188v2M542 186v2M543 184v2M544 182v2M545 180v2M546 178v2M547 176v2M548 174v2M549 173v1M550 172v1M551 171v1M552 169v2M553 168v1M554 167v1M555 166v1M556 165v1M557 164v1M558 163v1M559 163v1M560 162v1M561 161v1M562 160v1M563 159v1M564 159v1M565 158v1M566 158v1M567 157v1M568 156v1M569 156v1M570 155v1M571 154v1M572 154v1M573 153v1M574 153v1M575 152v1M576 151v1M577 151v1M578 150v1M579 150v1M580 149v1M581 149v1M582 148v1M583 148v1M584 147v1M585 147v1M586 147v1M587 146v1M588 145v1M589 145v1M590 145v1M591 144v1M592 144v1M593 143v1M594 143v1M595 143v1M596 142v1M597 142v1M598 142v1M599 142v1M600 141v1M601 141v1M602 141v1M603 140v1M604 140v1M605 140v1M606 140v1M607 140v1M608 139v1M609 139v1M610 139v1M611 138v1M612 138v1M613 138v1M614 138v1M615 138v1M616 138v1M617 138v1M618 137v1M619 137v1M620 137v1M621 137v1M622 137v1M623 137v1M624 137v1M625 137v1M626 136v1M627 136v1M628 136v1M629 136v1M630 135v1M631 135v1M632 134v1M633 134v1M634 133v1M635 132v1M636 132v1M637 131v1M638 131v1M639 130v1M640 129v1M641 129v1M642 129v1M643 128v1M644 127v1M645 127v1M646 127v1M647 127v1M648 126v1M649 126v1M650 126v1M651 125v1M652 125v1M653 125v1M654 125v1M655 126v1M656 127v1M657 127v1M658 127v1M659 128v1M660 129v1M661 129v1M662 129v1M663 129v1M664 130v1M665 130v1M666 130v1M667 131v1M668 131v1M669 131v1M670 131v1M671 131v1M672 130v1M673 130v1M674 130v1M675 129v1M676 129v1M677 129v1M678 129v1M679 129v1M680 129v1M681 129v1M682 128v1M683 128v1M684 128v1M685 128v1M686 128v1M687 128v1M688 127v1M689 127v1M690 127v1M691 126v1M692 126v1M693 126v1M694 126v1M695 126v1M696 126v1M697 126v1M698 125v1M699 125v1M700 125v1M701 125v1M702 125v1M703 124v1M704 124v1M705 123v1M706 123v1M707 123v1M708 122v1M709 122v1M710 121v1M711 121v1M712 120v1M713 120v1M714 119v1M715 118v1M716 118v1M717 117v1M718 117v1M719 116v1M720 116v1M721 115v1M722 115v1M723 115v1M724 114v1M725 114v1M726 114v1M727 114v1M728 114v1M729 114v1M730 113v1M731 113v1M732 113v1M733 113v1M734 113v1M735 113v1M736 113v1M737 113v1M738 114v1M739 114v1M740 114v1M741 114v1M742 114v1M743 115v1M744 115v1M745 116v1M746 116v1M747 116v1M748 117v1M749 117v1M750 117v1M751 117v1M752 118v1M753 118v1M754 118v1M755 119v1M756 119v1M757 119v1M758 119v1M759 119v1M760 119v1M761 119v1M762 118v1M763 118v1M764 118v1M765 118v1M766 118v1M767 118v1M768 118v1M769 118v1M770 118v1M771 118v1M772 118v1M773 118v1M774 118v1M775 118v1M776 118v1M777 118v1M778 118v1M779 118v1M780 118v1M781 118v1M782 118v1M783 118v1M784 118v1M785 118v1M786 118v1M787 118v1M788 118v1M789 118v1M790 118v1M791 117v1M792 117v1M793 116v1M794 116v1M795 116v1M796 115v1M797 115v1M798 115v1M799 115v1M800 115v1M801 115v1M802 114v1M803 114v1M804 114v1M805 114v1M806 114v1M807 114v1M808 114v1M809 114v1M810 114v1M811 114v1M812 114v1M813 114v1M814 114v1M815 114v1M816 115v1M817 115v1M818 115v1M819 116v1M820 116v1M821 116v1M822 116v1M823 116v1M824 117v1M825 117v1M826 117v1M827 118v1M828 118v1M829 118v1M830 118v1M831 119v1M832 119v1M833 120v1M834 120v1M835 120v1M836 121v1M837 121v1M838 121v1M839 122v1M840 122v1M841 123v1M842 123v1M843 123v1M844 124v1M845 124v1M846 124v1M847 124v1M848 124v1M849 124v1M850 123v1M851 123v1M852 123v1M853 123v1M854 123v1M855 123v1M856 123v1M857 123v1M858 124v1M859 124v1M860 124v1M861 124v1M862 124v1M863 125v1M864 125v1M865 126v1M866 126v1M867 126v1M868 127v1M869 127v1M870 128v1M871 128v1M872 129v1M873 129v1M874 130v1M875 131v1M876 131v1M877 132v1M878 132v1M879 132v1M880 133v1M881 133v1M882 133v1M883 134v1M884 134v1M885 134v1M886 135v1M887 135v1M888 136v1M889 136v1M890 137v1M891 138v1M892 138v1M893 139v1M894 140v1M895 140v1M896 141v1M897 141v1M898 142v1M899 143v1M900 143v1M901 144v1M902 145v1M903 146v1M904 147v1M905 148v2M906 150v1M907 151v1M908 152v1M909 153v1M910 153v1M911 154v1M912 155v1M913 155v1M914 155v1M915 156v1M916 157v1M917 157v1M918 158v1M919 158v1M920 159v1M921 159v1M922 160v1M923 161v1M924 161v1M925 162v1M926 162v1M927 163v1M928 163v1M929 164v1M930 164v1M931 164v1M932 165v1M933 165v1M934 165v1M935 166v1M936 167v1M937 167v1M938 167v1M939 168v1M940 169v1M941 169v1M942 169v1M943 170v1M944 171v1M945 171v1M946 171v1M947 172v1M948 173v1M949 173v1M950 173v1M951 174v1M952 174v1M953 175v1M954 175v1M955 175v1M956 176v1M957 176v1M958 176v1M959 176v1M960 177v1M961 177v1M962 177v1M963 178v1M964 178v1M965 178v1M966 178v1M967 178v1M968 178v1M969 178v1M970 179v1M971 179v1M972 179v1M973 179v1M974 179v1M975 179v1M976 179v1M977 179v1M978 179v1M979 179v1M980 179v1M981 179v1M982 179v1M983 179v1M984 178v1M985 178v1M986 178v1M987 177v1M988 177v1M989 177v1M990 177v1M991 176v1M992 175v1M993 175v1M994 175v1M995 174v1M996 173v1M997 173v1M998 172v1M999 172v1M1000 171v1M1001 171v1M1002 170v1M1003 169v1M1004 169v1M1005 168v1M1006 167v1M1007 167v1M1008 166v1M1009 166v1M1010 165v1M1011 164v1M1012 164v1M1013 163v1M1014 162v1M1015 162v1M1016 161v1M1017 161v1M1018 160v1M1019 159v1M1020 159v1M1021 158v1M1022 158v1M1023 158v1M1024 157v1M1025 157v1M1026 157v1M1027 156v1M1028 156v1M1029 156v1M1030 156v1M1031 156v1M1032 156v1M1033 156v1M1034 157v1M1035 157v1M1036 157v1M1037 157v1M1038 157v1M1039 157v1M1040 157v1M1041 157v1M1042 157v1M1043 157v1M1044 157v1M1045 157v1M1046 157v1M1047 157v1M1048 157v1M1049 157v1M1050 158v1M1051 158v1M1052 158v1M1053 158v1M1054 158v1M1055 158v1M1056 157v1M1057 157v1M1058 157v1M1059 156v1M1060 156v1M1061 156v1M1062 156v1M1063 155v1M1064 154v1M1065 154v1M1066 154v1M1067 153v1M1068 152v1M1069 152v1M1070 152v1M1071 151v1M1072 151v1M1073 150v1M1074 150v1M1075 150v1M1076 149v1M1077 149v1M1078 149v1M1079 149v1M1080 148v1M1081 148v1M1082 148v1M1083 147v1M1084 147v1M1085 147v1M1086 147v1M1087 147v1M1088 146v1M1089 146v1M1090 146v1M1091 145v1M1092 145v1M1093 145v1M1094 145v1M1095 145v1M1096 144v1M1097 144v1M1098 144v1M1099 143v1M1100 143v1M1101 143v1M1102 143v1M1103 143v1M1104 143v1M1105 143v1M1106 143v1M1107 143v1M1108 143v1M1109 143v1M1110 143v1M1111 143v1M1112 143v1M1113 143v1M1114 143v1M1115 143v1M1116 143v1M1117 143v1M1118 143v1M1119 143v1M1120 143v1M1121 143v1M1122 144v1M1123 144v1M1124 144v1M1125 144v1M1126 144v1M1127 145v1M1128 146v1M1129 146v1M1130 146v1M1131 147v1M1132 148v1M1133 148v1M1134 148v1M1135 148v1M1136 149v1M1137 149v1M1138 149v1M1139 150v1M1140 150v1M1141 150v1M1142 150v1M1143 151v1M1144 151v1M1145 152v1M1146 152v1M1147 152v1M1148 153v1M1149 153v1M1150 153v1M1151 153v1M1152 153v1M1153 153v1M1154 154v1M1155 154v1M1156 154v1M1157 154v1M1158 154v1M1159 154v1M1160 154v1M1161 154v1M1162 154v1M1163 154v1M1164 154v1M1165 154v1M1166 154v1M1167 154v1M1168 154v1M1169 154v1M1170 155v1M1171 155v1M1172 155v1M1173 155v1M1174 155v1M1175 155v1M1176 155v1M1177 155v1M1178 156v1M1179 156v1M1180 156v1M1181 156v1M1182 156v1M1183 156v1M1184 156v1M1185 156v1M1186 155v1M1187 155v1M1188 155v1M1189 155v1M1190 155v1M1191 155v1M1192 155v1M1193 155v1M1194 154v1M1195 154v1M1196 154v1M1197 154v1M1198 154v1M1199 154v1M1200 154v1M1201 154v1M1202 154v1M1203 154v1M1204 154v1M1205 154v1M1206 154v1M1207 154v1M1208 155v1M1209 155v1M1210 155v1M1211 156v1M1212 156v1M1213 156v1M1214 156v1M1215 156v1M1216 157v1M1217 157v1M1218 157v1M1219 158v1M1220 158v1M1221 158v1M1222 158v1M1223 158v1M1224 158v1M1225 158v1M1226 158v1M1227 158v1M1228 158v1M1229 158v1M1230 158v1M1231 158v1M1232 157v1M1233 157v1M1234 157v1M1235 156v1M1236 156v1M1237 156v1M1238 156v1M1239 155v1M1240 154v1M1241 154v1M1242 154v1M1243 153v1M1244 152v1M1245 152v1M1246 151v1M1247 150v1M1248 149v1M1249 148v1M1250 148v1M1251 147v1M1252 146v1M1253 145v1M1254 144v1M1255 143v1M1256 142v1M1257 141v1M1258 141v1M1259 140v1M1260 139v1" transform="translate(0.5,0)" fill="none" stroke="#ff0000" stroke-width="1"/>
<path d="M5 539v1M6 539v1M7 539v1M8 540v1M9 540v1M10 540v1M11 540v1M12 540v1M13 540v1M14 540v1M15 540v1M16 540v1M17 540v1M18 540v1M19 540v1M20 539v1M21 539v1M22 539v1M23 539v1M24 539v1M25 538v1M26 538v1M27 538v1M28 538v1M29 538v1M30 538v1M31 538v1M32 538v1M33 538v1M34 537v1M35 537v1M36 537v1M37 537v1M38 537v1M39 537v1M40 537v1M41 537v1M42 537v1M43 537v1M44 537v1M45 537v1M46 537v1M47 536v1M48 536v1M49 536v1M50 536v1M51 536v1M52 536v1M53 536v1M54 536v1M55 536v1M56 536v1M57 536v1M58 535v1M59 535v1M60 535v1M61 535v1M62 535v1M63 535v1M64 534v1M65 534v1M66 533v1M67 533v1M68 532v1M69 532v1M70 532v1M71 531v1M72 530v1M73 530v1M74 530v1M75 529v1M76 528v1M77 528v1M78 528v1M79 527v1M80 527v1M81 526v1M82 525v1M83 525v1M84 525v1M85 524v1M86 523v1M87 523v1M88 523v1M89 522v1M90 521v1M91 521v1M92 521v1M93 520v1M94 519v1M95 519v1M96 519v1M97 518v1M98 518v1M99 517v1M100 517v1M101 516v1M102 516v1M103 515v1M104 515v1M105 514v1M106 514v1M107 513v1M108 513v1M109 512v1M110 512v1M111 511v1M112 511v1M113 510v1M114 509v1M115 509v1M116 508v1M117 507v1M118 507v1M119 506v1M120 505v1M121 505v1M122 504v1M123 503v1M124 503v1M125 502v1M126 501v1M127 501v1M128 500v1M129 499v1M130 498v1M131 498v1M132 497v1M133 496v1M134 496v1M135 495v1M136 494v1M137 494v1M138 493v1M139 493v1M140 492v1M141 492v1M142 491v1M143 490v1M144 490v1M145 489v1M146 489v1M147 488v1M148 488v1M149 487v1M150 486v1M151 485v1M152 484v1M153 483v1M154 482v1M155 481v1M156 481v1M157 480v1M158 479v1M159 478v1M160 477v1M161 476v1M162 475v1M163 474v1M164 473v1M165 472v1M166 471v1M167 469v2M168 468v1M169 467v1M170 466v1M171 465v1M172 464v1M173 463v1M174 462v1M175 461v1M176 460v1M177 460v1M178 459v1M179 458v1M180 458v1M181 457v1M182 456v1M183 455v1M184 454v1M185 454v1M186 453v1M187 452v1M188 452v1M189 451v1M190 450v1M191 450v1M192 449v1M193 448v1M194 448v1M195 447v1M196 446v1M197 446v1M198 445v1M199 444v1M200 444v1M201 443v1M202 442v1M203 442v1M204 441v1M205 441v1M206 440v1M207 439v1M208 439v1M209 438v1M210 437v1M211 437v1M212 436v1M213 435v1M214 434v1M215 434v1M216 433v1M217 432v1M218 432v1M219 431v1M220 430v1M221 429v1M222 428v1M223 428v1M224 427v1M225 426v1M226 426v1M227 425v1M228 424v1M229 423v1M230 423v1M231 422v1M232 421v1M233 421v1M234 420v1M235 419v1M236 419v1M237 418v1M238 418v1M239 417v1M240 416v1M241 416v1M242 415v1M243 414v1M244 414v1M245 413v1M246 412v1M247 412v1M248 411v1M249 411v1M250 410v1M251 409v1M252 409v1M253 408v1M254 408v1M255 407v1M256 407v1M257 406v1M258 405v1M259 405v1M260 405v1M261 404v1M262 403v1M263 403v1M264 403v1M265 402v1M266 401v1M267 401v1M268 401v1M269 400v1M270 400v1M271 399v1M272 399v1M273 398v1M274 398v1M275 397v1M276 397v1M277 396v1M278 396v1M279 395v1M280 394v1M281 394v1M282 393v1M283 392v1M284 392v1M285 391v1M286 390v1M287 389v1M288 389v1M289 388v1M290 388v1M291 387v1M292 386v1M293 386v1M294 385v1M295 384v1M296 384v1M297 383v1M298 383v1M299 382v1M300 382v1M301 381v1M302 381v1M303 380v1M304 380v1M305 379v1M306 379v1M307 379v1M308 378v1M309 378v1M310 378v1M311 378v1M312 377v1M313 377v1M314 377v1M315 376v1M316 376v1M317 376v1M318 376v1M319 376v1M320 375v1M321 375v1M322 375v1M323 374v1M324 374v1M325 374v1M326 374v1M327 374v1M328 373v1M329 373v1M330 373v1M331 372v1M332 372v1M333 372v1M334 372v1M335 371v1M336 371v1M337 370v1M338 370v1M339 370v1M340 369v1M341 369v1M342 369v1M343 369v1M344 368v1M345 368v1M346 368v1M347 367v1M348 367v1M349 367v1M350 367v1M351 367v1M352 367v1M353 367v1M354 366v1M355 366v1M356 366v1M357 366v1M358 366v1M359 366v1M360 366v1M361 366v1M362 366v1M363 366v1M364 366v1M365 366v1M366 366v1M367 366v1M368 366v1M369 366v1M370 366v1M371 366v1M372 366v1M373 366v1M374 366v1M375 366v1M376 366v1M377 366v1M378 366v1M379 366v1M380 366v1M381 366v1M382 366v1M383 366v1M384 366v1M385 366v1M386 365v1M387 365v1M388 365v1M389 365v1M390 365v1M391 365v1M392 365v1M393 365v1M394 364v1M395 364v1M396 364v1M397 364v1M398 364v1M399 364v1M400 364v1M401 364v1M402 364v1M403 364v1M404 364v1M405 364v1M406 364v1M407 363v1M408 363v1M409 363v1M410 363v1M411 363v1M412 363v1M413 363v1M414 363v1M415 363v1M416 362v1M417 362v1M418 361v1M419 361v1M420 360v1M421 360v1M422 359v1M423 359v1M424 358v1M425 358v1M426 357v1M427 357v1M428 357v1M429 357v1M430 356v1M431 356v1M432 356v1M433 356v1M434 356v1M435 355v1M436 355v1M437 355v1M438 355v1M439 354v1M440 354v1M441 353v1M442 353v1M443 352v1M444 352v1M445 351v1M446 351v1M447 350v1M448 350v1M449 349v1M450 349v1M451 348v1M452 347v1M453 347v1M454 346v1M455 345v1M456 344v1M457 343v1M458 342v1M459 342v1M460 341v1M461 340v1M462 339v1M463 338v1M464 337v1M465 336v1M466 336v1M467 335v1M468 334v1M469 333v1M470 333v1M471 332v1M472 331v1M473 330v1M474 330v1M475 329v1M476 328v1M477 327v1M478 327v1M479 326v1M480 325v1M481 324v1M482 323v1M483 322v1M484 321v1M485 321v1M486 320v1M487 319v1M488 318v1M489 318v1M490 317v1M491 316v1M492 315v1M493 315v1M494 314v1M495 313v1M496 312v1M497 312v1M498 311v1M499 310v1M500 309v1M501 308v1M502 307v1M503 306v1M504 305v1M505 305v1M506 304v1M507 303v1M508 302v1M509 301v1M510 300v1M511 299v1M512 297v2M513 296v1M514 295v1M515 294v1M516 293v1M517 292v1M518 290v2M519 289v1M520 288v1M521 287v1M522 286v1M523 285v1M524 283v2M525 282v1M526 281v1M527 280v1M528 279v1M529 278v1M530 277v1M531 276v1M532 275v1M533 274v1M534 273v1M535 272v1M536 271v1M537 271v1M538 270v1M539 269v1M540 268v1M541 267v1M542 266v1M543 265v1M544 264v1M545 263v1M546 262v1M547 261v1M548 260v1M549 259v1M550 258v1M551 257v1M552 255v2M553 254v1M554 253v1M555 252v1M556 251v1M557 250v1M558 249v1M559 248v1M560 247v1M561 246v1M562 245v1M563 244v1M564 243v1M565 242v1M566 242v1M567 241v1M568 240v1M569 239v1M570 238v1M571 237v1M572 236v1M573 235v1M574 234v1M575 234v1M576 233v1M577 232v1M578 231v1M579 230v1M580 229v1M581 228v1M582 227v1M583 226v1M584 226v1M585 225v1M586 224v1M587 223v1M588 222v1M589 221v1M590 220v1M591 219v1M592 219v1M593 218v1M594 217v1M595 216v1M596 215v1M597 214v1M598 213v1M599 213v1M600 212v1M601 211v1M602 211v1M603 210v1M604 209v1M605 208v1M606 207v1M607 207v1M608 206v1M609 205v1M610 205v1M611 204v1M612 203v1M613 202v1M614 201v1M615 200v1M616 199v1M617 198v1M618 197v1M619 196v1M620 194v2M621 193v1M622 192v1M623 191v1M624 190v1M625 189v1M626 188v1M627 187v1M628 186v1M629 185v1M630 184v1M631 183v1M632 183v1M633 182v1M634 181v1M635 180v1M636 179v1M637 178v1M638 178v1M639 177v1M640 176v1M641 175v1M642 174v1M643 173v1M644 173v1M645 172v1M646 171v1M647 170v1M648 170v1M649 169v1M650 168v1M651 167v1M652 167v1M653 166v1M654 165v1M655 164v1M656 164v1M657 163v1M658 162v1M659 161v1M660 161v1M661 160v1M662 159v1M663 159v1M664 158v1M665 157v1M666 156v1M667 155v1M668 155v1M669 154v1M670 153v1M671 153v1M672 152v1M673 152v1M674 151v1M675 150v1M676 150v1M677 149v1M678 148v1M679 148v1M680 147v1M681 147v1M682 146v1M683 146v1M684 145v1M685 145v1M686 145v1M687 144v1M688 144v1M689 143v1M690 143v1M691 143v1M692 142v1M693 142v1M694 142v1M695 141v1M696 141v1M697 140v1M698 140v1M699 140v1M700 139v1M701 139v1M702 139v1M703 138v1M704 137v1M705 137v1M706 137v1M707 136v1M708 135v1M709 135v1M710 135v1M711 134v1M712 134v1M713 133v1M714 133v1M715 133v1M716 132v1M717 132v1M718 132v1M719 131v1M720 131v1M721 130v1M722 130v1M723 130v1M724 129v1M725 129v1M726 129v1M727 129v1M728 128v1M729 128v1M730 128v1M731 127v1M732 127v1M733 127v1M734 127v1M735 127v1M736 127v1M737 127v1M738 126v1M739 126v1M740 126v1M741 126v1M742 126v1M743 126v1M744 126v1M745 126v1M746 125v1M747 125v1M748 125v1M749 125v1M750 125v1M751 125v1M752 125v1M753 125v1M754 125v1M755 125v1M756 125v1M757 125v1M758 125v1M759 125v1M760 125v1M761 125v1M762 124v1M763 124v1M764 124v1M765 124v1M766 124v1M767 124v1M768 124v1M769 124v1M770 123v1M771 123v1M772 123v1M773 123v1M774 123v1M775 123v1M776 123v1M777 123v1M778 123v1M779 123v1M780 123v1M781 123v1M782 123v1M783 123v1M784 123v1M785 123v1M786 124v1M787 124v1M788 124v1M789 124v1M790 124v1M791 124v1M792 124v1M793 124v1M794 124v1M795 124v1M796 124v1M797 124v1M798 124v1M799 124v1M800 124v1M801 124v1M802 123v1M803 123v1M804 123v1M805 123v1M806 123v1M807 123v1M808 123v1M809 123v1M810 122v1M811 122v1M812 122v1M813 122v1M814 122v1M815 122v1M816 122v1M817 122v1M818 121v1M819 121v1M820 121v1M821 121v1M822 121v1M823 121v1M824 120v1M825 120v1M826 120v1M827 119v1M828 119v1M829 119v1M830 119v1M831 119v1M832 119v1M833 119v1M834 119v1M835 119v1M836 119v1M837 119v1M838 119v1M839 119v1M840 119v1M841 119v1M842 119v1M843 119v1M844 119v1M845 119v1M846 119v1M847 119v1M848 119v1M849 119v1M850 118v1M851 118v1M852 118v1M853 118v1M854 118v1M855 118v1M856 118v1M857 118v1M858 118v1M859 118v1M860 118v1M861 118v1M862 118v1M863 118v1M864 119v1M865 119v1M866 119v1M867 120v1M868 120v1M869 120v1M870 120v1M871 121v1M872 122v1M873 122v1M874 122v1M875 123v1M876 124v1M877 124v1M878 124v1M879 125v1M880 125v1M881 126v1M882 126v1M883 126v1M884 127v1M885 127v1M886 127v1M887 128v1M888 128v1M889 129v1M890 129v1M891 129v1M892 130v1M893 130v1M894 130v1M895 131v1M896 131v1M897 132v1M898 132v1M899 132v1M900 133v1M901 133v1M902 133v1M903 133v1M904 133v1M905 133v1M906 134v1M907 134v1M908 134v1M909 134v1M910 134v1M911 134v1M912 135v1M913 135v1M914 135v1M915 136v1M916 136v1M917 136v1M918 136v1M919 136v1M920 136v1M921 136v1M922 137v1M923 137v1M924 137v1M925 137v1M926 137v1M927 137v1M928 138v1M929 138v1M930 138v1M931 139v1M932 139v1M933 139v1M934 139v1M935 139v1M936 140v1M937 140v1M938 140v1M939 141v1M940 141v1M941 141v1M942 141v1M943 141v1M944 142v1M945 142v1M946 142v1M947 143v1M948 143v1M949 143v1M950 143v1M951 143v1M952 144v1M953 144v1M954 144v1M955 145v1M956 145v1M957 145v1M958 145v1M959 146v1M960 146v1M961 147v1M962 147v1M963 147v1M964 148v1M965 148v1M966 148v1M967 148v1M968 149v1M969 149v1M970 149v1M971 150v1M972 150v1M973 150v1M974 150v1M975 150v1M976 150v1M977 150v1M978 151v1M979 151v1M980 151v1M981 151v1M982 151v1M983 151v1M984 152v1M985 152v1M986 152v1M987 153v1M988 153v1M989 153v1M990 153v1M991 153v1M992 153v1M993 153v1M994 153v1M995 153v1M996 153v1M997 153v1M998 153v1M999 153v1M1000 153v1M1001 153v1M1002 153v1M1003 153v1M1004 153v1M1005 153v1M1006 153v1M1007 153v1M1008 153v1M1009 153v1M1010 153v1M1011 153v1M1012 153v1M1013 153v1M1014 153v1M1015 153v1M1016 153v1M1017 153v1M1018 153v1M1019 153v1M1020 153v1M1021 153v1M1022 153v1M1023 153v1M1024 153v1M1025 153v1M1026 154v1M1027 154v1M1028 154v1M1029 154v1M1030 154v1M1031 155v1M1032 155v1M1033 156v1M1034 156v1M1035 156v1M1036 157v1M1037 157v1M1038 157v1M1039 157v1M1040 157v1M1041 157v1M1042 158v1M1043 158v1M1044 158v1M1045 158v1M1046 158v1M1047 158v1M1048 159v1M1049 159v1M1050 159v1M1051 160v1M1052 160v1M1053 160v1M1054 160v1M1055 160v1M1056 160v1M1057 160v1M1058 161v1M1059 161v1M1060 161v1M1061 161v1M1062 161v1M1063 161v1M1064 161v1M1065 161v1M1066 161v1M1067 161v1M1068 161v1M1069 161v1M1070 161v1M1071 161v1M1072 161v1M1073 161v1M1074 161v1M1075 161v1M1076 161v1M1077 161v1M1078 161v1M1079 161v1M1080 161v1M1081 161v1M1082 161v1M1083 161v1M1084 161v1M1085 161v1M1086 161v1M1087 161v1M1088 161v1M1089 161v1M1090 161v1M1091 161v1M1092 161v1M1093 161v1M1094 161v1M1095 161v1M1096 161v1M1097 161v1M1098 161v1M1099 161v1M1100 161v1M1101 161v1M1102 161v1M1103 161v1M1104 161v1M1105 161v1M1106 160v1M1107 160v1M1108 160v1M1109 160v1M1110 160v1M1111 160v1M1112 159v1M1113 159v1M1114 159v1M1115 158v1M1116 158v1M1117 158v1M1118 158v1M1119 158v1M1120 158v1M1121 158v1M1122 158v1M1123 158v1M1124 158v1M1125 158v1M1126 158v1M1127 158v1M1128 158v1M1129 158v1M1130 157v1M1131 157v1M1132 157v1M1133 157v1M1134 157v1M1135 157v1M1136 157v1M1137 157v1M1138 157v1M1139 157v1M1140 157v1M1141 157v1M1142 157v1M1143 157v1M1144 157v1M1145 157v1M1146 156v1M1147 156v1M1148 156v1M1149 156v1M1150 156v1M1151 156v1M1152 156v1M1153 156v1M1154 157v1M1155 157v1M1156 157v1M1157 157v1M1158 157v1M1159 157v1M1160 157v1M1161 157v1M1162 157v1M1163 157v1M1164 157v1M1165 157v1M1166 157v1M1167 157v1M1168 157v1M1169 157v1M1170 157v1M1171 157v1M1172 157v1M1173 157v1M1174 157v1M1175 157v1M1176 156v1M1177 156v1M1178 156v1M1179 155v1M1180 155v1M1181 155v1M1182 155v1M1183 155v1M1184 154v1M1185 154v1M1186 154v1M1187 153v1M1188 153v1M1189 153v1M1190 153v1M1191 152v1M1192 152v1M1193 151v1M1194 151v1M1195 151v1M1196 150v1M1197 150v1M1198 150v1M1199 150v1M1200 150v1M1201 150v1M1202 150v1M1203 150v1M1204 150v1M1205 150v1M1206 150v1M1207 150v1M1208 150v1M1209 150v1M1210 150v1M1211 150v1M1212 150v1M1213 150v1M1214 150v1M1215 150v1M1216 150v1M1217 150v1M1218 150v1M1219 150v1M1220 150v1M1221 150v1M1222 150v1M1223 150v1M1224 150v1M1225 150v1M1226 149v1M1227 149v1M1228 149v1M1229 149v1M1230 149v1M1231 149v1M1232 149v1M1233 149v1M1234 149v1M1235 149v1M1236 149v1M1237 149v1M1238 149v1M1239 149v1M1240 149v1M1241 149v1M1242 149v1M1243 149v1M1244 149v1M1245 149v1M1246 149v1M1247 149v1M1248 149v1M1249 149v1M1250 148v1M1251 148v1M1252 148v1M1253 148v1M1254 148v1M1255 148v1M1256 148v1M1257 148v1M1258 147v1M1259 147v1M1260 147v1" transform="translate(0.5,0)" fill="none" stroke="#0000c8" stroke-width="1"/>
</g>
<rect x="5" y="52" width="1592" height="2" fill="#ff0000"/>
<rect x="4" y="50" width="6" height="6" fill="#ff0000"/>
<rect x="6" y="52" width="2" height="2" fill="#fff"/>
<rect x="1591" y="50" width="6" height="6" fill="#ff0000"/>
<rect x="1593" y="52" width="2" height="2" fill="#fff"/>
<rect x="5" y="95" width="1592" height="2" fill="#ff0000"/>
<rect x="4" y="93" width="6" height="6" fill="#ff0000"/>
<rect x="6" y="95" width="2" height="2" fill="#fff"/>
<rect x="1591" y="93" width="6" height="6" fill="#ff0000"/>
<rect x="1593" y="95" width="2" height="2" fill="#fff"/>
<rect x="5" y="137" width="1592" height="2" fill="#00ff00"/>
<rect x="4" y="135" width="6" height="6" fill="#00ff00"/>
<rect x="6" y="137" width="2" height="2" fill="#fff"/>
<rect x="1591" y="135" width="6" height="6" fill="#00ff00"/>
<rect x="1593" y="137" width="2" height="2" fill="#fff"/>
<rect x="5" y="180" width="1592" height="2" fill="#0000ff"/>
<rect x="4" y="178" width="6" height="6" fill="#0000ff"/>
<rect x="6" y="180" width="2" height="2" fill="#fff"/>
<rect x="1591" y="178" width="6" height="6" fill="#0000ff"/>
<rect x="1593" y="180" width="2" height="2" fill="#fff"/>
<rect x="5" y="223" width="1592" height="2" fill="#0000ff"/>
<rect x="4" y="221" width="6" height="6" fill="#0000ff"/>
<rect x="6" y="223" width="2" height="2" fill="#fff"/>
<rect x="1591" y="221" width="6" height="6" fill="#0000ff"/>
<rect x="1593" y="223" width="2" height="2" fill="#fff"/>
<rect x="1273" y="23" width="9" height="1" fill="#c0c0c0"/>
<rect x="1274" y="24" width="7" height="1" fill="#c0c0c0"/>
<rect x="1275" y="25" width="5" height="1" fill="#c0c0c0"/>
<rect x="1276" y="26" width="3" height="1" fill="#c0c0c0"/>
<rect x="1277" y="27" width="1" height="1" fill="#c0c0c0"/>
<polygon points="8,29 15,29 11.5,33" fill="#000" shape-rendering="geometricPrecision"/>
<text transform="translate(20.4 33.7) scale(0.9709 1)" font-size="9.68" fill="#000" text-anchor="start" >EURUSD,Daily</text>
<text transform="translate(90.4 33.7) scale(0.9709 1)" font-size="9.48" fill="#000" text-anchor="start" >1.18344 1.18633 1.18338 1.18619</text>
<rect x="1598" y="47" width="2" height="1" fill="#000"/>
<text transform="translate(1603.7 50.7) scale(0.9709 1)" font-size="9.27" fill="#000" text-anchor="start" >1.20150</text>
<rect x="1598" y="80" width="2" height="1" fill="#000"/>
<text transform="translate(1603.7 83.7) scale(0.9709 1)" font-size="9.27" fill="#000" text-anchor="start" >1.19390</text>
<rect x="1598" y="113" width="2" height="1" fill="#000"/>
<text transform="translate(1603.7 116.7) scale(0.9709 1)" font-size="9.27" fill="#000" text-anchor="start" >1.18610</text>
<rect x="1598" y="146" width="2" height="1" fill="#000"/>
<text transform="translate(1603.7 149.7) scale(0.9709 1)" font-size="9.27" fill="#000" text-anchor="start" >1.17830</text>
<rect x="1598" y="179" width="2" height="1" fill="#000"/>
<text transform="translate(1603.7 182.7) scale(0.9709 1)" font-size="9.27" fill="#000" text-anchor="start" >1.17050</text>
<rect x="1598" y="212" width="2" height="1" fill="#000"/>
<text transform="translate(1603.7 215.7) scale(0.9709 1)" font-size="9.27" fill="#000" text-anchor="start" >1.16270</text>
<rect x="1598" y="245" width="2" height="1" fill="#000"/>
<text transform="translate(1603.7 248.7) scale(0.9709 1)" font-size="9.27" fill="#000" text-anchor="start" >1.15510</text>
<rect x="1598" y="278" width="2" height="1" fill="#000"/>
<text transform="translate(1603.7 281.7) scale(0.9709 1)" font-size="9.27" fill="#000" text-anchor="start" >1.14730</text>
<rect x="1598" y="311" width="2" height="1" fill="#000"/>
<text transform="translate(1603.7 314.7) scale(0.9709 1)" font-size="9.27" fill="#000" text-anchor="start" >1.13950</text>
<rect x="1598" y="344" width="2" height="1" fill="#000"/>
<text transform="translate(1603.7 347.7) scale(0.9709 1)" font-size="9.27" fill="#000" text-anchor="start" >1.13170</text>
<rect x="1598" y="377" width="2" height="1" fill="#000"/>
<text transform="translate(1603.7 380.7) scale(0.9709 1)" font-size="9.27" fill="#000" text-anchor="start" >1.12410</text>
<rect x="1598" y="410" width="2" height="1" fill="#000"/>
<text transform="translate(1603.7 413.7) scale(0.9709 1)" font-size="9.27" fill="#000" text-anchor="start" >1.11630</text>
<rect x="1598" y="443" width="2" height="1" fill="#000"/>
<text transform="translate(1603.7 446.7) scale(0.9709 1)" font-size="9.27" fill="#000" text-anchor="start" >1.10850</text>
<rect x="1598" y="476" width="2" height="1" fill="#000"/>
<text transform="translate(1603.7 479.7) scale(0.9709 1)" font-size="9.27" fill="#000" text-anchor="start" >1.10070</text>
<rect x="1598" y="509" width="2" height="1" fill="#000"/>
<text transform="translate(1603.7 512.7) scale(0.9709 1)" font-size="9.27" fill="#000" text-anchor="start" >1.09290</text>
<rect x="1598" y="542" width="2" height="1" fill="#000"/>
<text transform="translate(1603.7 545.7) scale(0.9709 1)" font-size="9.27" fill="#000" text-anchor="start" >1.08530</text>
<rect x="1598" y="575" width="2" height="1" fill="#000"/>
<text transform="translate(1603.7 578.7) scale(0.9709 1)" font-size="9.27" fill="#000" text-anchor="start" >1.07750</text>
<rect x="1599" y="47" width="41" height="11" fill="#ff0000"/>
<text transform="translate(1603.7 56.1) scale(0.9709 1)" font-size="9.27" fill="#fff" text-anchor="start" >1.20019</text>
<rect x="1599" y="90" width="41" height="11" fill="#ff0000"/>
<text transform="translate(1603.7 99.1) scale(0.9709 1)" font-size="9.27" fill="#fff" text-anchor="start" >1.19008</text>
<rect x="1599" y="132" width="41" height="11" fill="#00ff00"/>
<text transform="translate(1603.7 141.1) scale(0.9709 1)" font-size="9.27" fill="#fff" text-anchor="start" >1.18024</text>
<rect x="1599" y="175" width="41" height="11" fill="#0000ff"/>
<text transform="translate(1603.7 184.1) scale(0.9709 1)" font-size="9.27" fill="#fff" text-anchor="start" >1.17014</text>
<rect x="1599" y="218" width="41" height="11" fill="#0000ff"/>
<text transform="translate(1603.7 227.1) scale(0.9709 1)" font-size="9.27" fill="#fff" text-anchor="start" >1.16003</text>
<rect x="1599" y="107" width="41" height="11" fill="#000"/>
<text transform="translate(1603.7 116.1) scale(0.9709 1)" font-size="9.27" fill="#fff" text-anchor="start" >1.18619</text>
<line x1="5" y1="611.5" x2="1597" y2="611.5" stroke="#c0c0c0" stroke-width="1" stroke-dasharray="3,3"/>
<line x1="5" y1="651.5" x2="1597" y2="651.5" stroke="#c0c0c0" stroke-width="1" stroke-dasharray="3,3"/>
<path d="M5 627v1M6 627v1M7 626v1M8 626v1M9 625v1M10 625v1M11 625v1M12 624v1M13 624v1M14 624v1M15 623v1M16 622v1M17 622v1M18 622v1M19 621v1M20 620v1M21 620v1M22 620v1M23 621v1M24 622v1M25 622v1M26 622v1M27 623v1M28 624v1M29 624v1M30 625v1M31 626v1M32 626v1M33 627v1M34 628v1M35 628v1M36 629v1M37 630v1M38 630v1M39 630v1M40 630v1M41 630v1M42 630v1M43 630v1M44 630v1M45 630v1M46 630v1M47 630v1M48 630v1M49 630v1M50 630v1M51 630v1M52 630v1M53 630v1M54 629v1M55 628v1M56 627v1M57 626v1M58 626v1M59 625v1M60 624v1M61 623v1M62 623v1M63 623v1M64 623v1M65 623v1M66 623v1M67 623v1M68 623v1M69 623v1M70 622v1M71 621v1M72 620v1M73 619v1M74 618v1M75 617v1M76 616v1M77 615v1M78 615v1M79 615v1M80 614v1M81 614v1M82 614v1M83 613v1M84 613v1M85 613v1M86 613v1M87 613v1M88 613v1M89 613v1M90 614v1M91 614v1M92 614v1M93 614v1M94 614v1M95 614v1M96 613v1M97 613v1M98 613v1M99 612v1M100 612v1M101 612v1M102 612v1M103 612v1M104 611v1M105 611v1M106 611v1M107 610v1M108 610v1M109 610v1M110 609v1M111 609v1M112 608v1M113 608v1M114 607v1M115 606v1M116 606v1M117 605v1M118 605v1M119 604v1M120 604v1M121 603v1M122 603v1M123 603v1M124 602v1M125 602v1M126 602v1M127 603v1M128 604v1M129 604v1M130 604v1M131 605v1M132 606v1M133 606v1M134 606v1M135 606v1M136 606v1M137 606v1M138 606v1M139 606v1M140 606v1M141 606v1M142 606v1M143 606v1M144 606v1M145 606v1M146 607v1M147 607v1M148 607v1M149 607v1M150 607v1M151 606v1M152 606v1M153 605v1M154 605v1M155 605v1M156 604v1M157 604v1M158 604v1M159 604v1M160 604v1M161 604v1M162 604v1M163 604v1M164 604v1M165 604v1M166 604v1M167 604v1M168 604v1M169 604v1M170 603v1M171 603v1M172 603v1M173 603v2M174 605v2M175 607v2M176 609v2M177 611v2M178 613v2M179 615v2M180 617v2M181 619v2M182 620v1M183 621v1M184 621v1M185 622v1M186 622v1M187 622v1M188 623v1M189 623v1M190 623v1M191 622v1M192 622v1M193 621v1M194 621v1M195 621v1M196 620v1M197 620v1M198 620v1M199 620v1M200 620v1M201 620v1M202 621v1M203 621v1M204 621v1M205 621v1M206 621v1M207 622v1M208 623v1M209 623v1M210 623v1M211 624v1M212 625v1M213 625v1M214 625v1M215 625v1M216 625v1M217 625v1M218 626v1M219 626v1M220 626v1M221 626v1M222 626v1M223 627v1M224 627v1M225 628v1M226 628v1M227 628v1M228 629v1M229 629v1M230 629v1M231 629v1M232 629v1M233 629v1M234 629v1M235 629v1M236 629v1M237 629v1M238 628v1M239 627v1M240 626v1M241 625v1M242 625v1M243 624v1M244 623v1M245 622v1M246 621v1M247 621v1M248 620v1M249 620v1M250 619v1M251 618v1M252 618v1M253 617v1M254 618v1M255 619v1M256 619v1M257 620v1M258 621v1M259 621v1M260 622v1M261 623v1M262 624v1M263 625v1M264 625v1M265 626v1M266 627v1M267 627v1M268 628v1M269 629v1M270 629v1M271 629v1M272 629v1M273 629v1M274 629v1M275 629v1M276 629v1M277 629v1M278 629v1M279 629v1M280 629v1M281 629v1M282 628v1M283 628v1M284 628v1M285 628v1M286 628v1M287 628v1M288 628v1M289 628v1M290 627v1M291 627v1M292 627v1M293 627v1M294 627v1M295 627v1M296 627v1M297 627v1M298 627v1M299 627v1M300 627v1M301 627v1M302 627v1M303 627v1M304 626v1M305 626v1M306 626v1M307 625v1M308 625v1M309 625v1M310 625v1M311 626v1M312 626v1M313 627v1M314 627v1M315 627v1M316 628v1M317 628v1M318 628v1M319 628v1M320 628v1M321 628v1M322 627v1M323 627v1M324 627v1M325 627v1M326 627v1M327 627v1M328 627v1M329 627v1M330 627v1M331 627v1M332 627v1M333 627v1M334 626v1M335 625v1M336 624v1M337 623v1M338 623v1M339 622v1M340 621v1M341 620v1M342 620v1M343 620v1M344 620v1M345 620v1M346 621v1M347 621v1M348 621v1M349 621v1M350 621v1M351 620v1M352 620v1M353 619v1M354 619v1M355 619v1M356 618v1M357 618v1M358 619v1M359 619v1M360 620v1M361 620v1M362 621v1M363 622v1M364 622v1M365 623v1M366 623v1M367 623v1M368 622v1M369 622v1M370 622v1M371 621v1M372 621v1M373 621v1M374 621v1M375 622v1M376 622v1M377 623v1M378 623v1M379 623v1M380 624v1M381 624v1M382 623v1M383 622v1M384 621v1M385 620v1M386 620v1M387 619v1M388 618v1M389 617v1M390 617v1M391 616v1M392 616v1M393 615v1M394 615v1M395 615v1M396 614v1M397 614v1M398 614v1M399 614v1M400 614v1M401 614v1M402 614v1M403 614v1M404 614v1M405 614v1M406 614v1M407 614v1M408 613v1M409 613v1M410 613v1M411 612v1M412 612v1M413 612v1M414 612v1M415 612v1M416 612v1M417 612v1M418 611v1M419 611v1M420 611v1M421 611v1M422 611v1M423 611v1M424 611v1M425 611v1M426 611v1M427 611v1M428 611v1M429 611v1M430 611v1M431 611v1M432 611v1M433 611v1M434 611v1M435 611v1M436 611v1M437 611v1M438 610v1M439 610v1M440 609v1M441 609v1M442 608v1M443 607v1M444 607v1M445 606v1M446 605v1M447 605v1M448 604v1M449 604v1M450 603v1M451 602v1M452 602v1M453 601v1M454 601v1M455 601v1M456 600v1M457 600v1M458 600v1M459 599v1M460 599v1M461 599v1M462 599v1M463 599v1M464 599v1M465 599v1M466 599v1M467 599v1M468 599v1M469 599v1M470 599v1M471 599v1M472 599v1M473 599v1M474 599v1M475 599v1M476 599v1M477 599v1M478 598v1M479 598v1M480 597v1M481 597v1M482 596v1M483 595v1M484 595v1M485 594v1M486 594v1M487 595v1M488 596v1M489 596v1M490 596v1M491 597v1M492 598v1M493 598v1M494 598v1M495 598v1M496 598v1M497 598v1M498 597v1M499 597v1M500 597v1M501 597v1M502 597v1M503 597v1M504 597v1M505 597v1M506 596v1M507 596v1M508 596v1M509 596v1M510 596v1M511 596v1M512 596v1M513 596v1M514 595v1M515 595v1M516 595v1M517 595v1M518 596v1M519 597v1M520 597v1M521 598v1M522 599v1M523 599v1M524 600v1M525 601v1M526 602v1M527 603v1M528 604v1M529 605v1M530 605v1M531 606v1M532 607v1M533 608v1M534 608v1M535 608v1M536 608v1M537 608v1M538 607v1M539 607v1M540 607v1M541 607v1M542 606v1M543 605v1M544 605v1M545 604v1M546 603v1M547 603v1M548 602v1M549 601v1M550 602v1M551 603v1M552 603v1M553 604v1M554 605v1M555 605v1M556 606v1M557 607v1M558 608v1M559 609v2M560 611v1M561 612v1M562 613v1M563 614v2M564 616v1M565 617v1M566 617v1M567 617v1M568 617v1M569 617v1M570 617v1M571 617v1M572 617v1M573 617v1M574 617v1M575 618v1M576 618v1M577 619v1M578 619v1M579 619v1M580 620v1M581 620v1M582 620v1M583 620v1M584 620v1M585 620v1M586 619v1M587 619v1M588 619v1M589 619v1M590 619v1M591 619v1M592 618v1M593 618v1M594 618v1M595 617v1M596 617v1M597 617v1M598 617v1M599 617v1M600 616v1M601 616v1M602 616v1M603 615v1M604 615v1M605 615v1M606 615v1M607 615v1M608 615v1M609 615v1M610 614v1M611 614v1M612 614v1M613 614v1M614 614v1M615 614v1M616 614v1M617 614v1M618 614v1M619 614v1M620 614v1M621 614v1M622 614v1M623 614v1M624 613v1M625 613v1M626 613v1M627 612v1M628 612v1M629 612v1M630 612v1M631 611v1M632 610v1M633 610v1M634 610v1M635 609v1M636 608v1M637 608v1M638 609v1M639 610v1M640 610v1M641 611v1M642 612v1M643 612v1M644 613v1M645 614v1M646 614v1M647 615v1M648 616v1M649 616v1M650 616v1M651 617v1M652 618v1M653 618v1M654 619v2M655 621v1M656 622v1M657 623v2M658 625v1M659 626v1M660 627v2M661 629v1M662 629v1M663 629v1M664 628v1M665 628v1M666 628v1M667 627v1M668 627v1M669 627v1M670 627v1M671 627v1M672 627v1M673 627v1M674 626v1M675 626v1M676 626v1M677 626v1M678 626v1M679 626v1M680 625v1M681 625v1M682 625v1M683 624v1M684 624v1M685 624v1M686 624v1M687 624v1M688 624v1M689 624v1M690 625v1M691 625v1M692 625v1M693 625v1M694 625v1M695 625v1M696 625v1M697 625v1M698 624v1M699 624v1M700 624v1M701 624v1M702 623v1M703 622v1M704 621v1M705 620v1M706 620v1M707 619v1M708 618v1M709 617v1M710 617v1M711 617v1M712 617v1M713 617v1M714 618v1M715 618v1M716 618v1M717 618v1M718 618v1M719 617v1M720 616v1M721 616v1M722 616v1M723 615v1M724 614v1M725 614v1M726 614v1M727 614v1M728 614v1M729 614v1M730 614v1M731 614v1M732 614v1M733 614v1M734 615v2M735 617v2M736 619v2M737 621v1M738 622v2M739 624v2M740 626v2M741 628v1M742 628v1M743 628v1M744 628v1M745 628v1M746 629v1M747 629v1M748 629v1M749 629v1M750 629v1M751 629v1M752 629v1M753 629v1M754 630v1M755 630v1M756 630v1M757 630v1M758 630v1M759 629v1M760 628v1M761 628v1M762 628v1M763 627v1M764 626v1M765 626v1M766 626v1M767 627v1M768 628v1M769 628v1M770 628v1M771 629v1M772 630v1M773 630v1M774 630v1M775 631v1M776 632v1M777 632v1M778 632v1M779 633v1M780 634v1M781 634v1M782 634v1M783 634v1M784 633v1M785 633v1M786 633v1M787 632v1M788 632v1M789 632v1M790 631v1M791 630v1M792 629v1M793 628v1M794 628v1M795 627v1M796 626v1M797 625v1M798 626v1M799 626v1M800 627v1M801 627v1M802 628v1M803 629v1M804 629v1M805 630v1M806 630v1M807 630v1M808 630v1M809 630v1M810 630v1M811 630v1M812 630v1M813 630v1M814 630v1M815 629v1M816 628v1M817 628v1M818 628v1M819 627v1M820 626v1M821 626v1M822 626v1M823 627v1M824 627v1M825 628v1M826 628v1M827 628v1M828 629v1M829 629v1M830 629v1M831 629v1M832 629v1M833 629v1M834 630v1M835 630v1M836 630v1M837 630v1M838 630v1M839 630v1M840 631v1M841 631v1M842 631v1M843 632v1M844 632v1M845 632v1M846 632v1M847 631v1M848 630v1M849 630v1M850 630v1M851 629v1M852 628v1M853 628v1M854 628v1M855 628v1M856 628v1M857 628v1M858 628v1M859 628v1M860 628v1M861 628v1M862 629v2M863 631v2M864 633v1M865 634v2M866 636v1M867 637v2M868 639v2M869 641v1M870 641v1M871 642v1M872 642v1M873 643v1M874 643v1M875 643v1M876 644v1M877 644v1M878 644v1M879 644v1M880 645v1M881 645v1M882 645v1M883 646v1M884 646v1M885 646v1M886 646v1M887 646v1M888 646v1M889 646v1M890 647v1M891 647v1M892 647v1M893 647v1M894 647v1M895 648v1M896 648v1M897 649v1M898 649v1M899 649v1M900 650v1M901 650v1M902 650v1M903 650v1M904 650v1M905 650v1M906 650v1M907 650v1M908 650v1M909 650v1M910 649v1M911 648v1M912 648v1M913 647v1M914 646v1M915 646v1M916 645v1M917 644v1M918 643v1M919 642v1M920 641v1M921 640v1M922 639v1M923 638v1M924 637v1M925 636v1M926 636v1M927 636v1M928 636v1M929 636v1M930 636v1M931 636v1M932 636v1M933 636v1M934 636v1M935 635v1M936 634v1M937 634v1M938 634v1M939 633v1M940 632v1M941 632v1M942 633v1M943 633v1M944 634v1M945 634v1M946 635v1M947 636v1M948 636v1M949 637v1M950 637v1M951 637v1M952 637v1M953 637v1M954 636v1M955 636v1M956 636v1M957 636v1M958 635v1M959 634v1M960 633v1M961 632v1M962 631v1M963 630v1M964 629v1M965 628v1M966 628v1M967 628v1M968 628v1M969 628v1M970 629v1M971 629v1M972 629v1M973 629v1M974 629v1M975 629v1M976 629v1M977 629v1M978 630v1M979 630v1M980 630v1M981 630v1M982 630v1M983 630v1M984 631v1M985 631v1M986 631v1M987 632v1M988 632v1M989 632v1M990 631v1M991 630v1M992 629v1M993 628v1M994 627v1M995 626v1M996 625v1M997 624v1M998 624v1M999 624v1M1000 624v1M1001 624v1M1002 624v1M1003 624v1M1004 624v1M1005 624v1M1006 624v1M1007 625v1M1008 625v1M1009 626v1M1010 626v1M1011 626v1M1012 627v1M1013 627v1M1014 628v1M1015 629v1M1016 630v1M1017 631v1M1018 632v1M1019 633v1M1020 634v1M1021 635v1M1022 635v1M1023 635v1M1024 634v1M1025 634v1M1026 634v1M1027 633v1M1028 633v1M1029 633v1M1030 634v1M1031 635v1M1032 635v1M1033 636v1M1034 637v1M1035 637v1M1036 638v1M1037 639v1M1038 639v1M1039 638v1M1040 638v1M1041 637v1M1042 637v1M1043 637v1M1044 636v1M1045 636v1M1046 636v1M1047 636v1M1048 636v1M1049 636v1M1050 636v1M1051 636v1M1052 636v1M1053 636v1M1054 635v1M1055 634v1M1056 633v1M1057 631v2M1058 630v1M1059 629v1M1060 628v1M1061 627v1M1062 627v1M1063 626v1M1064 625v1M1065 625v1M1066 625v1M1067 624v1M1068 623v1M1069 623v1M1070 623v1M1071 622v1M1072 622v1M1073 621v1M1074 621v1M1075 621v1M1076 620v1M1077 620v1M1078 621v1M1079 622v1M1080 622v1M1081 623v1M1082 624v1M1083 624v1M1084 625v1M1085 626v1M1086 626v1M1087 626v1M1088 625v1M1089 625v1M1090 625v1M1091 624v1M1092 624v1M1093 624v1M1094 624v1M1095 624v1M1096 623v1M1097 623v1M1098 623v1M1099 622v1M1100 622v1M1101 622v1M1102 623v1M1103 624v1M1104 624v1M1105 625v1M1106 626v1M1107 626v1M1108 627v1M1109 628v1M1110 628v1M1111 628v1M1112 627v1M1113 627v1M1114 627v1M1115 626v1M1116 626v1M1117 626v1M1118 627v1M1119 628v1M1120 629v1M1121 630v2M1122 632v1M1123 633v1M1124 634v1M1125 635v1M1126 636v1M1127 637v1M1128 638v1M1129 639v1M1130 640v1M1131 641v1M1132 642v1M1133 643v1M1134 643v1M1135 643v1M1136 643v1M1137 643v1M1138 644v1M1139 644v1M1140 644v1M1141 644v1M1142 644v1M1143 644v1M1144 644v1M1145 644v1M1146 644v1M1147 644v1M1148 644v1M1149 644v1M1150 644v1M1151 644v1M1152 644v1M1153 644v1M1154 645v1M1155 645v1M1156 645v1M1157 645v1M1158 643v2M1159 642v1M1160 640v2M1161 639v1M1162 637v2M1163 636v1M1164 634v2M1165 633v1M1166 633v1M1167 633v1M1168 634v1M1169 634v1M1170 634v1M1171 635v1M1172 635v1M1173 635v1M1174 634v1M1175 632v2M1176 631v1M1177 630v1M1178 629v1M1179 627v2M1180 626v1M1181 625v1M1182 625v1M1183 624v1M1184 623v1M1185 623v1M1186 623v1M1187 622v1M1188 621v1M1189 621v1M1190 621v1M1191 621v1M1192 621v1M1193 621v1M1194 621v1M1195 621v1M1196 621v1M1197 621v1M1198 622v1M1199 622v1M1200 623v1M1201 623v1M1202 624v1M1203 625v1M1204 625v1M1205 626v1M1206 626v1M1207 626v1M1208 626v1M1209 626v1M1210 627v1M1211 627v1M1212 627v1M1213 627v1M1214 628v1M1215 629v1M1216 629v1M1217 630v1M1218 631v1M1219 631v1M1220 632v1M1221 633v1M1222 632v1M1223 632v1M1224 631v1M1225 631v1M1226 630v1M1227 629v1M1228 629v1M1229 628v1M1230 628v1M1231 628v1M1232 628v1M1233 628v1M1234 628v1M1235 628v1M1236 628v1M1237 628v1M1238 628v1M1239 628v1M1240 627v1M1241 627v1M1242 627v1M1243 626v1M1244 626v1M1245 626v1M1246 626v1M1247 626v1M1248 626v1M1249 626v1M1250 626v1M1251 626v1M1252 626v1M1253 626v1M1254 626v1M1255 626v1M1256 625v1M1257 625v1M1258 625v1M1259 624v1M1260 624v1" transform="translate(0.5,0)" fill="none" stroke="#1e90ff" stroke-width="1"/>
<text transform="translate(9.3 593) scale(0.9709 1)" font-size="9.48" fill="#000" text-anchor="start" >RSI(14) 57.8280</text>
<text transform="translate(1601.8 590.9) scale(0.9709 1)" font-size="9.27" fill="#000" text-anchor="start" >100</text>
<text transform="translate(1601.8 614.9) scale(0.9709 1)" font-size="9.27" fill="#000" text-anchor="start" >70</text>
<text transform="translate(1601.8 654.9) scale(0.9709 1)" font-size="9.27" fill="#000" text-anchor="start" >30</text>
<text transform="translate(1601.8 679.0) scale(0.9709 1)" font-size="9.27" fill="#000" text-anchor="start" >0</text>
<rect x="5" y="756" width="1" height="2" fill="#c0c0c0"/>
<rect x="13" y="756" width="1" height="2" fill="#c0c0c0"/>
<rect x="21" y="756" width="1" height="2" fill="#c0c0c0"/>
<rect x="29" y="753" width="1" height="5" fill="#c0c0c0"/>
<rect x="37" y="753" width="1" height="5" fill="#c0c0c0"/>
<rect x="45" y="753" width="1" height="5" fill="#c0c0c0"/>
<rect x="53" y="754" width="1" height="4" fill="#c0c0c0"/>
<rect x="61" y="751" width="1" height="7" fill="#c0c0c0"/>
<rect x="69" y="749" width="1" height="9" fill="#c0c0c0"/>
<rect x="77" y="743" width="1" height="15" fill="#c0c0c0"/>
<rect x="85" y="738" width="1" height="20" fill="#c0c0c0"/>
<rect x="93" y="734" width="1" height="24" fill="#c0c0c0"/>
<rect x="101" y="730" width="1" height="28" fill="#c0c0c0"/>
<rect x="109" y="726" width="1" height="32" fill="#c0c0c0"/>
<rect x="117" y="720" width="1" height="38" fill="#c0c0c0"/>
<rect x="125" y="712" width="1" height="46" fill="#c0c0c0"/>
<rect x="133" y="708" width="1" height="50" fill="#c0c0c0"/>
<rect x="141" y="705" width="1" height="53" fill="#c0c0c0"/>
<rect x="149" y="704" width="1" height="54" fill="#c0c0c0"/>
<rect x="157" y="701" width="1" height="57" fill="#c0c0c0"/>
<rect x="165" y="700" width="1" height="58" fill="#c0c0c0"/>
<rect x="173" y="698" width="1" height="60" fill="#c0c0c0"/>
<rect x="181" y="702" width="1" height="56" fill="#c0c0c0"/>
<rect x="189" y="707" width="1" height="51" fill="#c0c0c0"/>
<rect x="197" y="710" width="1" height="48" fill="#c0c0c0"/>
<rect x="205" y="713" width="1" height="45" fill="#c0c0c0"/>
<rect x="213" y="718" width="1" height="40" fill="#c0c0c0"/>
<rect x="221" y="722" width="1" height="36" fill="#c0c0c0"/>
<rect x="229" y="727" width="1" height="31" fill="#c0c0c0"/>
<rect x="237" y="731" width="1" height="27" fill="#c0c0c0"/>
<rect x="245" y="732" width="1" height="26" fill="#c0c0c0"/>
<rect x="253" y="730" width="1" height="28" fill="#c0c0c0"/>
<rect x="261" y="732" width="1" height="26" fill="#c0c0c0"/>
<rect x="269" y="735" width="1" height="23" fill="#c0c0c0"/>
<rect x="277" y="738" width="1" height="20" fill="#c0c0c0"/>
<rect x="285" y="740" width="1" height="18" fill="#c0c0c0"/>
<rect x="293" y="741" width="1" height="17" fill="#c0c0c0"/>
<rect x="301" y="742" width="1" height="16" fill="#c0c0c0"/>
<rect x="309" y="743" width="1" height="15" fill="#c0c0c0"/>
<rect x="317" y="744" width="1" height="14" fill="#c0c0c0"/>
<rect x="325" y="745" width="1" height="13" fill="#c0c0c0"/>
<rect x="333" y="746" width="1" height="12" fill="#c0c0c0"/>
<rect x="341" y="744" width="1" height="14" fill="#c0c0c0"/>
<rect x="349" y="744" width="1" height="14" fill="#c0c0c0"/>
<rect x="357" y="742" width="1" height="16" fill="#c0c0c0"/>
<rect x="365" y="742" width="1" height="16" fill="#c0c0c0"/>
<rect x="373" y="741" width="1" height="17" fill="#c0c0c0"/>
<rect x="381" y="742" width="1" height="16" fill="#c0c0c0"/>
<rect x="389" y="740" width="1" height="18" fill="#c0c0c0"/>
<rect x="397" y="737" width="1" height="21" fill="#c0c0c0"/>
<rect x="405" y="735" width="1" height="23" fill="#c0c0c0"/>
<rect x="413" y="732" width="1" height="26" fill="#c0c0c0"/>
<rect x="421" y="731" width="1" height="27" fill="#c0c0c0"/>
<rect x="429" y="729" width="1" height="29" fill="#c0c0c0"/>
<rect x="437" y="729" width="1" height="29" fill="#c0c0c0"/>
<rect x="445" y="726" width="1" height="32" fill="#c0c0c0"/>
<rect x="453" y="721" width="1" height="37" fill="#c0c0c0"/>
<rect x="461" y="716" width="1" height="42" fill="#c0c0c0"/>
<rect x="469" y="712" width="1" height="46" fill="#c0c0c0"/>
<rect x="477" y="710" width="1" height="48" fill="#c0c0c0"/>
<rect x="485" y="704" width="1" height="54" fill="#c0c0c0"/>
<rect x="493" y="700" width="1" height="58" fill="#c0c0c0"/>
<rect x="501" y="697" width="1" height="61" fill="#c0c0c0"/>
<rect x="509" y="694" width="1" height="64" fill="#c0c0c0"/>
<rect x="517" y="691" width="1" height="67" fill="#c0c0c0"/>
<rect x="525" y="691" width="1" height="67" fill="#c0c0c0"/>
<rect x="533" y="693" width="1" height="65" fill="#c0c0c0"/>
<rect x="541" y="695" width="1" height="63" fill="#c0c0c0"/>
<rect x="549" y="692" width="1" height="66" fill="#c0c0c0"/>
<rect x="557" y="692" width="1" height="66" fill="#c0c0c0"/>
<rect x="565" y="696" width="1" height="62" fill="#c0c0c0"/>
<rect x="573" y="700" width="1" height="58" fill="#c0c0c0"/>
<rect x="581" y="704" width="1" height="54" fill="#c0c0c0"/>
<rect x="589" y="708" width="1" height="50" fill="#c0c0c0"/>
<rect x="597" y="710" width="1" height="48" fill="#c0c0c0"/>
<rect x="605" y="712" width="1" height="46" fill="#c0c0c0"/>
<rect x="613" y="713" width="1" height="45" fill="#c0c0c0"/>
<rect x="621" y="714" width="1" height="44" fill="#c0c0c0"/>
<rect x="629" y="714" width="1" height="44" fill="#c0c0c0"/>
<rect x="637" y="712" width="1" height="46" fill="#c0c0c0"/>
<rect x="645" y="713" width="1" height="45" fill="#c0c0c0"/>
<rect x="653" y="715" width="1" height="43" fill="#c0c0c0"/>
<rect x="661" y="721" width="1" height="37" fill="#c0c0c0"/>
<rect x="669" y="725" width="1" height="33" fill="#c0c0c0"/>
<rect x="677" y="729" width="1" height="29" fill="#c0c0c0"/>
<rect x="685" y="731" width="1" height="27" fill="#c0c0c0"/>
<rect x="693" y="733" width="1" height="25" fill="#c0c0c0"/>
<rect x="701" y="735" width="1" height="23" fill="#c0c0c0"/>
<rect x="709" y="733" width="1" height="25" fill="#c0c0c0"/>
<rect x="717" y="733" width="1" height="25" fill="#c0c0c0"/>
<rect x="725" y="730" width="1" height="28" fill="#c0c0c0"/>
<rect x="733" y="729" width="1" height="29" fill="#c0c0c0"/>
<rect x="741" y="732" width="1" height="26" fill="#c0c0c0"/>
<rect x="749" y="736" width="1" height="22" fill="#c0c0c0"/>
<rect x="757" y="739" width="1" height="19" fill="#c0c0c0"/>
<rect x="765" y="741" width="1" height="17" fill="#c0c0c0"/>
<rect x="773" y="743" width="1" height="15" fill="#c0c0c0"/>
<rect x="781" y="747" width="1" height="11" fill="#c0c0c0"/>
<rect x="789" y="749" width="1" height="9" fill="#c0c0c0"/>
<rect x="797" y="748" width="1" height="10" fill="#c0c0c0"/>
<rect x="805" y="749" width="1" height="9" fill="#c0c0c0"/>
<rect x="813" y="750" width="1" height="8" fill="#c0c0c0"/>
<rect x="821" y="749" width="1" height="9" fill="#c0c0c0"/>
<rect x="829" y="750" width="1" height="8" fill="#c0c0c0"/>
<rect x="837" y="751" width="1" height="7" fill="#c0c0c0"/>
<rect x="845" y="752" width="1" height="6" fill="#c0c0c0"/>
<rect x="853" y="752" width="1" height="6" fill="#c0c0c0"/>
<rect x="861" y="752" width="1" height="6" fill="#c0c0c0"/>
<rect x="869" y="757" width="1" height="1" fill="#c0c0c0"/>
<rect x="877" y="757" width="1" height="5" fill="#c0c0c0"/>
<rect x="885" y="757" width="1" height="10" fill="#c0c0c0"/>
<rect x="893" y="757" width="1" height="14" fill="#c0c0c0"/>
<rect x="901" y="757" width="1" height="19" fill="#c0c0c0"/>
<rect x="909" y="757" width="1" height="23" fill="#c0c0c0"/>
<rect x="917" y="757" width="1" height="24" fill="#c0c0c0"/>
<rect x="925" y="757" width="1" height="22" fill="#c0c0c0"/>
<rect x="933" y="757" width="1" height="21" fill="#c0c0c0"/>
<rect x="941" y="757" width="1" height="18" fill="#c0c0c0"/>
<rect x="949" y="757" width="1" height="17" fill="#c0c0c0"/>
<rect x="957" y="757" width="1" height="16" fill="#c0c0c0"/>
<rect x="965" y="757" width="1" height="13" fill="#c0c0c0"/>
<rect x="973" y="757" width="1" height="10" fill="#c0c0c0"/>
<rect x="981" y="757" width="1" height="8" fill="#c0c0c0"/>
<rect x="989" y="757" width="1" height="7" fill="#c0c0c0"/>
<rect x="997" y="757" width="1" height="4" fill="#c0c0c0"/>
<rect x="1013" y="756" width="1" height="2" fill="#c0c0c0"/>
<rect x="1037" y="757" width="1" height="4" fill="#c0c0c0"/>
<rect x="1045" y="757" width="1" height="4" fill="#c0c0c0"/>
<rect x="1053" y="757" width="1" height="6" fill="#c0c0c0"/>
<rect x="1061" y="757" width="1" height="3" fill="#c0c0c0"/>
<rect x="1077" y="754" width="1" height="4" fill="#c0c0c0"/>
<rect x="1085" y="752" width="1" height="6" fill="#c0c0c0"/>
<rect x="1093" y="750" width="1" height="8" fill="#c0c0c0"/>
<rect x="1101" y="748" width="1" height="10" fill="#c0c0c0"/>
<rect x="1109" y="749" width="1" height="9" fill="#c0c0c0"/>
<rect x="1117" y="748" width="1" height="10" fill="#c0c0c0"/>
<rect x="1125" y="751" width="1" height="7" fill="#c0c0c0"/>
<rect x="1141" y="757" width="1" height="6" fill="#c0c0c0"/>
<rect x="1149" y="757" width="1" height="10" fill="#c0c0c0"/>
<rect x="1157" y="757" width="1" height="14" fill="#c0c0c0"/>
<rect x="1165" y="757" width="1" height="13" fill="#c0c0c0"/>
<rect x="1173" y="757" width="1" height="13" fill="#c0c0c0"/>
<rect x="1181" y="757" width="1" height="8" fill="#c0c0c0"/>
<rect x="1197" y="754" width="1" height="4" fill="#c0c0c0"/>
<rect x="1205" y="752" width="1" height="6" fill="#c0c0c0"/>
<rect x="1213" y="751" width="1" height="7" fill="#c0c0c0"/>
<rect x="1221" y="753" width="1" height="5" fill="#c0c0c0"/>
<rect x="1229" y="753" width="1" height="5" fill="#c0c0c0"/>
<rect x="1237" y="752" width="1" height="6" fill="#c0c0c0"/>
<rect x="1245" y="751" width="1" height="7" fill="#c0c0c0"/>
<rect x="1253" y="750" width="1" height="8" fill="#c0c0c0"/>
<rect x="1261" y="748" width="1" height="10" fill="#c0c0c0"/>
<path d="M5 765v1M6 765v1M7 765v1M11 764v1M12 764v1M13 764v1M17 763v1M18 763v1M19 763v1M23 763v1M24 763v1M25 763v1M29 762v1M30 762v1M31 762v1M35 761v1M36 761v1M37 761v1M41 760v1M42 760v1M43 760v1M47 759v1M48 759v1M49 759v1M53 758v1M54 758v1M55 757v1M59 756v1M60 756v1M61 756v1M65 754v1M66 754v1M67 754v1M71 753v1M72 753v1M73 753v1M77 752v1M78 752v1M79 751v1M83 750v1M84 749v1M85 749v1M89 747v1M90 747v1M91 747v1M95 745v1M96 745v1M97 744v1M101 743v1M102 743v1M103 743v1M107 741v1M108 741v1M109 741v1M113 739v1M114 739v1M115 738v1M119 736v1M120 735v1M121 735v1M125 733v1M126 733v1M127 732v1M131 730v1M132 729v1M133 729v1M137 727v1M138 726v1M139 725v1M143 723v1M144 722v1M145 722v1M149 719v1M150 719v1M151 718v1M155 716v1M156 715v1M157 715v1M161 713v1M162 713v1M163 712v1M167 710v1M168 709v1M169 709v1M173 707v1M174 707v1M175 707v1M179 705v1M180 705v1M181 705v1M185 704v1M186 704v1M187 703v1M191 703v1M192 703v1M193 703v1M197 703v1M198 703v1M199 703v1M203 704v1M204 704v1M205 704v1M209 704v1M210 705v1M211 705v1M215 705v1M216 706v1M217 706v1M221 707v1M222 707v1M223 708v1M227 709v1M228 710v1M229 710v1M233 712v1M234 712v1M235 712v1M239 714v1M240 715v1M241 715v1M245 717v1M246 717v1M247 718v1M251 719v1M252 720v1M253 720v1M257 722v1M258 722v1M259 722v1M263 723v1M264 724v1M265 724v1M269 725v1M270 725v1M271 726v1M275 728v1M276 729v1M277 729v1M281 729v1M282 730v1M283 730v1M287 731v1M288 731v1M289 732v1M293 733v1M294 733v1M295 733v1M299 735v1M300 735v1M301 735v1M305 735v1M306 736v1M307 736v1M311 736v1M312 736v1M313 736v1M317 737v1M318 737v1M319 737v1M323 739v1M324 739v1M325 739v1M329 740v1M330 740v1M331 741v1M335 741v1M336 741v1M337 741v1M341 742v1M342 742v1M343 742v1M347 742v1M348 742v1M349 742v1M353 742v1M354 742v1M355 742v1M359 742v1M360 742v1M361 742v1M365 743v1M366 743v1M367 743v1M371 742v1M372 742v1M373 742v1M377 742v1M378 742v1M379 742v1M383 742v1M384 742v1M385 742v1M389 742v1M390 742v1M391 742v1M395 741v1M396 741v1M397 741v1M401 740v1M402 740v1M403 739v1M407 739v1M408 739v1M409 739v1M413 738v1M414 738v1M415 738v1M419 736v1M420 736v1M421 736v1M425 736v1M426 735v1M427 735v1M431 735v1M432 735v1M433 735v1M437 734v1M438 734v1M439 733v1M443 732v1M444 731v1M445 731v1M449 730v1M450 730v1M451 729v1M455 729v1M456 728v1M457 728v1M461 727v1M462 727v1M463 726v1M467 725v1M468 724v1M469 724v1M473 723v1M474 723v1M475 722v1M479 721v1M480 720v1M481 720v1M485 718v1M486 718v1M487 717v1M491 715v1M492 714v1M493 714v1M497 713v1M498 713v1M499 712v1M503 711v1M504 710v1M505 710v1M509 707v1M510 707v1M511 706v1M515 705v1M516 704v1M517 704v1M521 702v1M522 702v1M523 702v1M527 700v1M528 700v1M529 699v1M533 698v1M534 698v1M535 698v1M539 696v1M540 696v1M541 696v1M545 695v1M546 695v1M547 694v1M551 694v1M552 694v1M553 694v1M557 693v1M558 693v1M559 693v1M563 693v1M564 693v1M565 693v1M569 693v1M570 693v1M571 693v1M575 693v1M576 693v1M577 693v1M581 694v1M582 694v1M583 694v1M587 696v1M588 696v1M589 696v1M593 697v1M594 697v1M595 698v1M599 698v1M600 699v1M601 699v1M605 700v1M606 700v1M607 700v1M611 702v1M612 702v1M613 702v1M617 704v1M618 704v1M619 704v1M623 705v1M624 706v1M625 706v1M629 707v1M630 707v1M631 707v1M635 709v1M636 709v1M637 709v1M641 709v1M642 710v1M643 710v1M647 710v1M648 710v1M649 710v1M653 711v1M654 711v1M655 711v1M659 713v1M660 713v1M661 713v1M665 713v1M666 714v1M667 714v1M671 714v1M672 715v1M673 715v1M677 716v1M678 716v1M679 716v1M683 718v1M684 718v1M685 718v1M689 720v1M690 720v1M691 720v1M695 721v1M696 722v1M697 722v1M701 723v1M702 723v1M703 723v1M707 725v1M708 725v1M709 725v1M713 725v1M714 726v1M715 726v1M719 727v1M720 727v1M721 728v1M725 729v1M726 729v1M727 729v1M731 730v1M732 730v1M733 730v1M737 730v1M738 731v1M739 731v1M743 731v1M744 731v1M745 731v1M749 731v1M750 731v1M751 731v1M755 732v1M756 732v1M757 732v1M761 732v1M762 733v1M763 733v1M767 733v1M768 733v1M769 733v1M773 734v1M774 734v1M775 734v1M779 736v1M780 736v1M781 736v1M785 736v1M786 737v1M787 737v1M791 737v1M792 738v1M793 738v1M797 739v1M798 739v1M799 740v1M803 741v1M804 742v1M805 742v1M809 742v1M810 743v1M811 743v1M815 743v1M816 744v1M817 744v1M821 745v1M822 745v1M823 745v1M827 746v1M828 746v1M829 746v1M833 746v1M834 747v1M835 747v1M839 747v1M840 747v1M841 747v1M845 748v1M846 748v1M847 748v1M851 749v1M852 749v1M853 749v1M857 749v1M858 749v1M859 749v1M863 749v1M864 749v1M865 749v1M869 750v1M870 750v1M871 750v1M875 752v1M876 752v1M877 752v1M881 752v1M882 753v1M883 753v1M887 754v1M888 754v1M889 755v1M893 756v1M894 756v1M895 757v1M899 758v1M900 759v1M901 759v1M905 761v1M906 761v1M907 761v1M911 763v1M912 763v1M913 764v1M917 765v1M918 765v1M919 766v1M923 768v1M924 769v1M925 769v1M929 769v1M930 770v1M931 770v1M935 771v1M936 771v1M937 772v1M941 773v1M942 773v1M943 773v1M947 775v1M948 775v1M949 775v1M953 775v1M954 775v1M955 775v1M959 775v1M960 775v1M961 775v1M965 775v1M966 775v1M967 775v1M971 774v1M972 774v1M973 774v1M977 774v1M978 773v1M979 773v1M983 773v1M984 772v1M985 772v1M989 771v1M990 771v1M991 771v1M995 769v1M996 769v1M997 769v1M1001 767v1M1002 767v1M1003 767v1M1007 766v1M1008 765v1M1009 765v1M1013 764v1M1014 764v1M1015 764v1M1019 763v1M1020 763v1M1021 763v1M1025 762v1M1026 762v1M1027 761v1M1031 761v1M1032 760v1M1033 760v1M1037 759v1M1038 759v1M1039 759v1M1043 759v1M1044 759v1M1045 759v1M1049 759v1M1050 759v1M1051 759v1M1055 759v1M1056 759v1M1057 759v1M1061 759v1M1062 759v1M1063 759v1M1067 758v1M1068 758v1M1069 758v1M1073 758v1M1074 758v1M1075 758v1M1079 758v1M1080 758v1M1081 758v1M1085 758v1M1086 758v1M1087 758v1M1091 757v1M1092 757v1M1093 757v1M1097 757v1M1098 756v1M1099 756v1M1103 756v1M1104 755v1M1105 755v1M1109 754v1M1110 754v1M1111 754v1M1115 752v1M1116 752v1M1117 752v1M1121 752v1M1122 752v1M1123 752v1M1127 752v1M1128 752v1M1129 752v1M1133 751v1M1134 751v1M1135 751v1M1139 752v1M1140 752v1M1141 752v1M1145 752v1M1146 753v1M1147 753v1M1151 753v1M1152 754v1M1153 754v1M1157 755v1M1158 755v1M1159 755v1M1163 757v1M1164 757v1M1165 757v1M1169 759v1M1170 759v1M1171 759v1M1175 760v1M1176 760v1M1177 760v1M1181 761v1M1182 761v1M1183 761v1M1187 763v1M1188 763v1M1189 763v1M1193 763v1M1194 763v1M1195 763v1M1199 763v1M1200 763v1M1201 763v1M1205 762v1M1206 762v1M1207 762v1M1211 761v1M1212 761v1M1213 761v1M1217 760v1M1218 760v1M1219 759v1M1223 759v1M1224 758v1M1225 758v1M1229 757v1M1230 757v1M1231 757v1M1235 755v1M1236 755v1M1237 755v1M1241 754v1M1242 754v1M1243 753v1M1247 753v1M1248 752v1M1249 752v1M1253 751v1M1254 751v1M1255 751v1M1259 751v1M1260 751v1" transform="translate(0.5,0)" fill="none" stroke="#ff0000" stroke-width="1"/>
<text transform="translate(9.3 697) scale(0.9709 1)" font-size="9.58" fill="#000" text-anchor="start" >MACD(12,26,9) 0.002028 0.001379</text>
<text transform="translate(1601.8 695.0) scale(0.9709 1)" font-size="9.27" fill="#000" text-anchor="start" >0.014384</text>
<text transform="translate(1601.8 761.0) scale(0.9709 1)" font-size="9.27" fill="#000" text-anchor="start" >0.00</text>
<text transform="translate(1601.8 781.3) scale(0.9709 1)" font-size="9.27" fill="#000" text-anchor="start" >-0.005396</text>
<rect x="5" y="786" width="1" height="3" fill="#000"/>
<text transform="translate(4.7 798) scale(0.9709 1)" font-size="9.27" fill="#000" text-anchor="start" textLength="55.83">18 May 2020</text>
<rect x="69" y="786" width="1" height="3" fill="#000"/>
<text transform="translate(68.7 798) scale(0.9709 1)" font-size="9.27" fill="#000" text-anchor="start" textLength="55.83">27 May 2020</text>
<rect x="133" y="786" width="1" height="3" fill="#000"/>
<text transform="translate(132.7 798) scale(0.9709 1)" font-size="9.27" fill="#000" text-anchor="start" >5 Jun 2020</text>
<rect x="197" y="786" width="1" height="3" fill="#000"/>
<text transform="translate(196.7 798) scale(0.9709 1)" font-size="9.27" fill="#000" text-anchor="start" >15 Jun 2020</text>
<rect x="261" y="786" width="1" height="3" fill="#000"/>
<text transform="translate(260.7 798) scale(0.9709 1)" font-size="9.27" fill="#000" text-anchor="start" >24 Jun 2020</text>
<rect x="325" y="786" width="1" height="3" fill="#000"/>
<text transform="translate(324.7 798) scale(0.9709 1)" font-size="9.27" fill="#000" text-anchor="start" >3 Jul 2020</text>
<rect x="389" y="786" width="1" height="3" fill="#000"/>
<text transform="translate(388.7 798) scale(0.9709 1)" font-size="9.27" fill="#000" text-anchor="start" >13 Jul 2020</text>
<rect x="453" y="786" width="1" height="3" fill="#000"/>
<text transform="translate(452.7 798) scale(0.9709 1)" font-size="9.27" fill="#000" text-anchor="start" >22 Jul 2020</text>
<rect x="517" y="786" width="1" height="3" fill="#000"/>
<text transform="translate(516.7 798) scale(0.9709 1)" font-size="9.27" fill="#000" text-anchor="start" >31 Jul 2020</text>
<rect x="581" y="786" width="1" height="3" fill="#000"/>
<text transform="translate(580.7 798) scale(0.9709 1)" font-size="9.27" fill="#000" text-anchor="start" >10 Aug 2020</text>
<rect x="645" y="786" width="1" height="3" fill="#000"/>
<text transform="translate(644.7 798) scale(0.9709 1)" font-size="9.27" fill="#000" text-anchor="start" >19 Aug 2020</text>
<rect x="709" y="786" width="1" height="3" fill="#000"/>
<text transform="translate(708.7 798) scale(0.9709 1)" font-size="9.27" fill="#000" text-anchor="start" >28 Aug 2020</text>
<rect x="773" y="786" width="1" height="3" fill="#000"/>
<text transform="translate(772.7 798) scale(0.9709 1)" font-size="9.27" fill="#000" text-anchor="start" >7 Sep 2020</text>
<rect x="837" y="786" width="1" height="3" fill="#000"/>
<text transform="translate(836.7 798) scale(0.9709 1)" font-size="9.27" fill="#000" text-anchor="start" >16 Sep 2020</text>
<rect x="901" y="786" width="1" height="3" fill="#000"/>
<text transform="translate(900.7 798) scale(0.9709 1)" font-size="9.27" fill="#000" text-anchor="start" >25 Sep 2020</text>
<rect x="965" y="786" width="1" height="3" fill="#000"/>
<text transform="translate(964.7 798) scale(0.9709 1)" font-size="9.27" fill="#000" text-anchor="start" >5 Oct 2020</text>
<rect x="1029" y="786" width="1" height="3" fill="#000"/>
<text transform="translate(1028.7 798) scale(0.9709 1)" font-size="9.27" fill="#000" text-anchor="start" >14 Oct 2020</text>
<rect x="1093" y="786" width="1" height="3" fill="#000"/>
<text transform="translate(1092.7 798) scale(0.9709 1)" font-size="9.27" fill="#000" text-anchor="start" >23 Oct 2020</text>
<rect x="1157" y="786" width="1" height="3" fill="#000"/>
<text transform="translate(1156.7 798) scale(0.9709 1)" font-size="9.27" fill="#000" text-anchor="start" textLength="54.18">2 Nov 2020</text>
<rect x="1221" y="786" width="1" height="3" fill="#000"/>
<text transform="translate(1220.7 798) scale(0.9709 1)" font-size="9.27" fill="#000" text-anchor="start" textLength="54.18">11 Nov 2020</text>
<rect x="0" y="806" width="1642" height="1" fill="#e0e0e0"/>
<rect x="0" y="808" width="1642" height="18" fill="#f0f0f0"/>
<rect x="0" y="809" width="1" height="17" fill="#a0a0a0"/>
<rect x="1" y="809" width="1" height="17" fill="#8c8c8c"/>
<rect x="2" y="809" width="1" height="17" fill="#fafafa"/>
<rect x="0" y="808" width="7" height="1" fill="#000"/>
<rect x="109" y="808" width="1533" height="1" fill="#000"/>
<rect x="7" y="807" width="102" height="19" fill="#fff"/>
<rect x="6" y="808" width="1" height="18" fill="#000"/>
<rect x="109" y="808" width="1" height="18" fill="#000"/>
<text x="18.6" y="822.8" font-size="11.9" fill="#000" text-anchor="start" >EURUSD,Daily</text>
<text x="159.6" y="822.8" font-size="11.9" fill="#6e6e6e" text-anchor="middle" >USDCHF,Daily</text>
<text x="262.0" y="822.8" font-size="11.9" fill="#6e6e6e" text-anchor="middle" >AUDUSD,Daily</text>
<text x="365.5" y="822.8" font-size="11.9" fill="#6e6e6e" text-anchor="middle" >USDCAD,Daily</text>
<text x="469.7" y="822.8" font-size="11.9" fill="#6e6e6e" text-anchor="middle" >USDCNH,Daily</text>
<text x="574.3" y="822.8" font-size="11.9" fill="#6e6e6e" text-anchor="middle" >EURUSD,Daily</text>
<text x="671.8" y="822.8" font-size="11.9" fill="#6e6e6e" text-anchor="middle" >GBPUSD,H4</text>
<text x="769.7" y="822.8" font-size="11.9" fill="#6e6e6e" text-anchor="middle" >XAUUSD,Daily</text>
<text x="858.0" y="822.8" font-size="11.9" fill="#6e6e6e" text-anchor="middle" >HK50,H1</text>
<text x="933.2" y="822.8" font-size="11.9" fill="#6e6e6e" text-anchor="middle" >UK100,H1</text>
<text x="1013.4" y="822.8" font-size="11.9" fill="#6e6e6e" text-anchor="middle" >UK100,H1</text>
<text x="1093.2" y="822.8" font-size="11.9" fill="#6e6e6e" text-anchor="middle" >GER30,H1</text>
<text x="1171.2" y="822.8" font-size="11.9" fill="#6e6e6e" text-anchor="middle" >FRA40,H1</text>
<text x="1245.5" y="822.8" font-size="11.9" fill="#6e6e6e" text-anchor="middle" >USOil,H4</text>
<text x="1323.4" y="822.8" font-size="11.9" fill="#6e6e6e" text-anchor="middle" >USDJPY,H1</text>
<text x="1405.5" y="822.8" font-size="11.9" fill="#6e6e6e" text-anchor="middle" >DJ30,Daily</text>
<text x="1495.2" y="822.8" font-size="11.9" fill="#6e6e6e" text-anchor="middle" >CHINA300,H1</text>
<text x="1581.3" y="822.8" font-size="11.9" fill="#6e6e6e" text-anchor="middle" >USOil,H1</text>
<rect x="210" y="811" width="1" height="14" fill="#6e6e6e"/>
<rect x="314" y="811" width="1" height="14" fill="#6e6e6e"/>
<rect x="418" y="811" width="1" height="14" fill="#6e6e6e"/>
<rect x="523" y="811" width="1" height="14" fill="#6e6e6e"/>
<rect x="626" y="811" width="1" height="14" fill="#6e6e6e"/>
<rect x="718" y="811" width="1" height="14" fill="#6e6e6e"/>
<rect x="822" y="811" width="1" height="14" fill="#6e6e6e"/>
<rect x="894" y="811" width="1" height="14" fill="#6e6e6e"/>
<rect x="974" y="811" width="1" height="14" fill="#6e6e6e"/>
<rect x="1054" y="811" width="1" height="14" fill="#6e6e6e"/>
<rect x="1134" y="811" width="1" height="14" fill="#6e6e6e"/>
<rect x="1210" y="811" width="1" height="14" fill="#6e6e6e"/>
<rect x="1282" y="811" width="1" height="14" fill="#6e6e6e"/>
<rect x="1366" y="811" width="1" height="14" fill="#6e6e6e"/>
<rect x="1446" y="811" width="1" height="14" fill="#6e6e6e"/>
<rect x="1546" y="811" width="1" height="14" fill="#6e6e6e"/>
<polygon points="1616.4,813.6 1612.8,817 1616.4,820.4" fill="#a0a0a0" shape-rendering="geometricPrecision"/>
<polygon points="1631.8,813.5 1635.6,817 1631.8,820.5" fill="#000" shape-rendering="geometricPrecision"/>
</svg></body></html>
